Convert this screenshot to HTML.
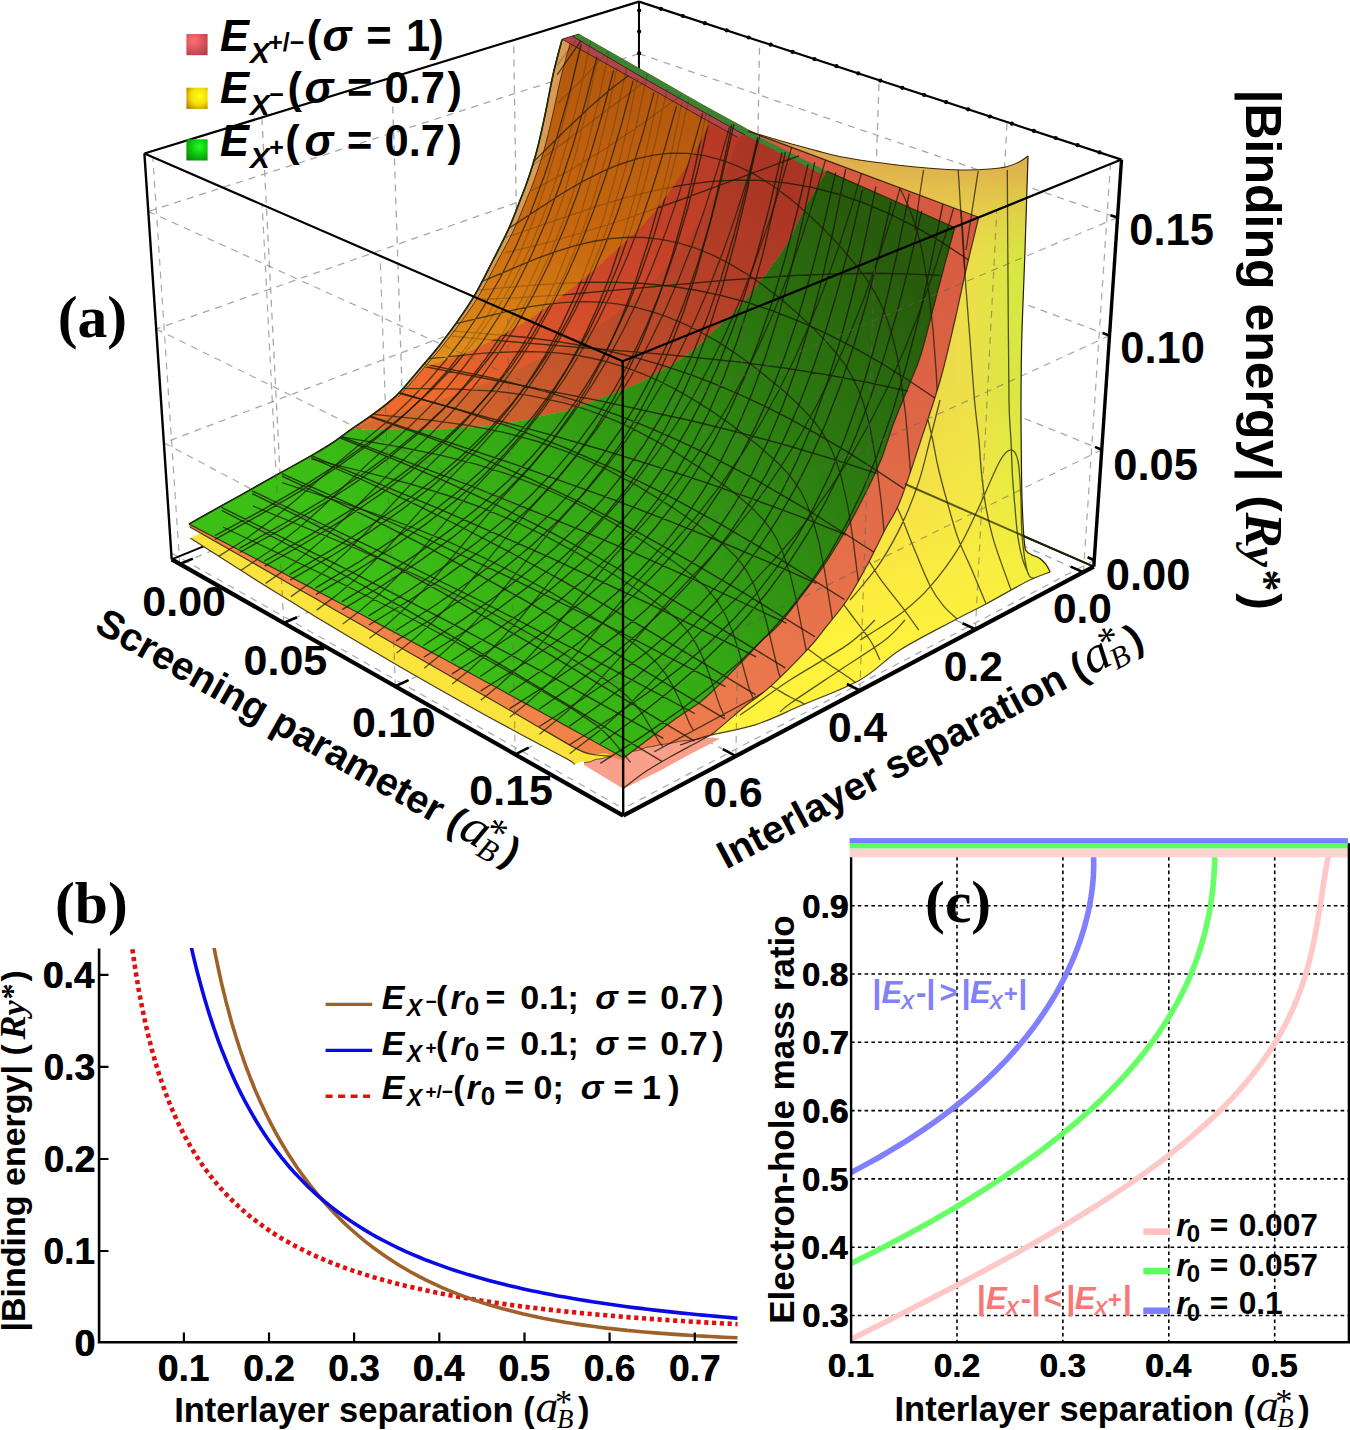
<!DOCTYPE html>
<html><head><meta charset="utf-8"><style>
html,body{margin:0;padding:0;background:#fff;}
svg{display:block;}
</style></head><body>
<svg width="1350" height="1430" viewBox="0 0 1350 1430">
<rect width="1350" height="1430" fill="#fff"/>
<defs>
<linearGradient id="gGreen" gradientUnits="userSpaceOnUse" x1="420" y1="640" x2="880" y2="250">
<stop offset="0" stop-color="#3cc016"/><stop offset="0.35" stop-color="#34a814"/><stop offset="0.7" stop-color="#2c7c10"/><stop offset="1" stop-color="#285c0c"/></linearGradient>
<linearGradient id="gYel" gradientUnits="userSpaceOnUse" x1="880" y1="200" x2="1030" y2="200">
<stop offset="0" stop-color="#f0d048"/><stop offset="0.6" stop-color="#ecdf4a"/><stop offset="1" stop-color="#d2ea40"/></linearGradient>
<linearGradient id="gYel2" gradientUnits="userSpaceOnUse" x1="900" y1="380" x2="900" y2="640">
<stop offset="0" stop-color="#fff040" stop-opacity="0"/><stop offset="1" stop-color="#fff23c" stop-opacity="1"/></linearGradient>
<linearGradient id="gLip" gradientUnits="userSpaceOnUse" x1="0" y1="150" x2="0" y2="270">
<stop offset="0" stop-color="#dca850" stop-opacity="1"/><stop offset="0.25" stop-color="#e0b44c" stop-opacity="0.85"/><stop offset="1" stop-color="#e8d048" stop-opacity="0"/></linearGradient>
<linearGradient id="gOr" gradientUnits="userSpaceOnUse" x1="560" y1="50" x2="420" y2="390">
<stop offset="0" stop-color="#b4580e"/><stop offset="0.45" stop-color="#c8680e"/><stop offset="0.8" stop-color="#dc8616"/><stop offset="1" stop-color="#e69a1c"/></linearGradient>
<linearGradient id="gRed1" gradientUnits="userSpaceOnUse" x1="700" y1="130" x2="430" y2="390">
<stop offset="0" stop-color="#b83a26"/><stop offset="0.45" stop-color="#cc462a"/><stop offset="1" stop-color="#ee6a2c"/></linearGradient>
<linearGradient id="gRed2" gradientUnits="userSpaceOnUse" x1="740" y1="140" x2="420" y2="410">
<stop offset="0" stop-color="#a83424"/><stop offset="0.5" stop-color="#b84a2a"/><stop offset="1" stop-color="#d06a30"/></linearGradient>
<linearGradient id="gRS" gradientUnits="userSpaceOnUse" x1="960" y1="220" x2="640" y2="770">
<stop offset="0" stop-color="#d65a40"/><stop offset="1" stop-color="#f08050"/></linearGradient>
</defs>
<path d="M519.6,417.4L513.6,40.1M404.5,464.4L391.8,77.5M282.1,514.4L261.9,117.4M638.7,262.8L163.9,442.8M638.8,159.7L156.2,329M638.9,53.7L148.3,211.4M753,418.6L759.6,41.1M866,467.7L879.1,80.2M986.4,520L1007,122.1M638.7,262.8L1101.8,449.7M638.8,159.7L1109.5,335.6M638.9,53.7L1117.5,217.6M646.8,372.4L179.7,564M753,418.6L283.7,623M866,467.7L395.3,686.3M986.4,520L515.2,754.4M628.1,373.1L1083.4,572.2M519.6,417.4L975.4,629.3M404.5,464.4L859.9,690.5M282.1,514.4L735.9,756.1" stroke="#a8a8a8" stroke-width="1.3" stroke-dasharray="7 6" fill="none"/>
<path d="M171.7,559.4L638.6,368.9M1093.8,566.7L638.6,368.9M639,1.6L638.6,368.9" stroke="#000" stroke-width="2" fill="none"/>
<path d="M748,131C755,133.1 775.8,139.5 790,143.5C804.2,147.5 819.7,152 833,155C846.3,158 856.7,159.6 870,161.5C883.3,163.4 901.3,165.4 913,166.7C924.7,167.9 931,168.4 940,169C949,169.6 958.4,170 966.7,170C975,170 983.3,169.6 990,169C996.7,168.4 1001.7,167.9 1006.7,166.7C1011.7,165.4 1016.5,163.3 1020,161.5C1023.5,159.7 1026.7,156.9 1028,156L1028,156C1027.5,171.7 1026,221 1025,250C1024,279 1022.7,305 1022,330C1021.3,355 1021.1,376.7 1021,400C1020.9,423.3 1021.3,452.6 1021.5,470C1021.7,487.4 1021.7,492.5 1022.2,504.5C1022.7,516.5 1023.4,533.8 1024.3,541.8C1025.2,549.8 1024.8,549.4 1027.4,552.2C1030,555 1036.8,556.3 1039.9,558.4C1043,560.5 1044.4,562.4 1046.1,564.6C1047.8,566.9 1049.5,570.7 1050.2,571.9L1050.2,571.9C1046.4,573.5 1038.1,575.9 1027.4,581.2C1016.7,586.6 998.1,597.5 986,604C973.9,610.5 969.1,612.3 954.8,620C940.5,627.7 915.8,640 900,650C884.2,660 876.7,670.6 860,679.9C843.3,689.2 817.3,698.5 800,706C782.7,713.5 771.3,719.6 756,724.6C740.7,729.6 720.7,732.4 708,735.8C695.3,739.2 684.7,743.5 680,745L680,745L623,788.5L623,788.5C626.7,785.8 637.2,777.2 645,772C652.8,766.8 660.8,762.2 670,757C679.2,751.8 692.5,744.9 700,740.7C707.5,736.5 707.4,737.6 714.8,731.9C722.2,726.2 735,714.4 744.4,706.7C753.8,699 760.5,695.5 771.1,685.9C781.7,676.3 798.8,658.8 808.1,648.9C817.4,639 820,634.6 826.7,626.2C833.4,617.8 841,609.4 848.1,598.5C855.2,587.6 863.2,572.5 869.5,560.7C875.8,549 880.8,537.9 885.9,528C891,518.1 894.1,516.2 900,501.5C905.9,486.8 914.3,460.2 921,440C927.7,419.8 934.6,400 940.3,380C946,360 950.7,338.3 955,320C959.3,301.7 964.2,278.3 966,270Z" fill="url(#gYel)"/>
<path d="M748,131C755,133.1 775.8,139.5 790,143.5C804.2,147.5 819.7,152 833,155C846.3,158 856.7,159.6 870,161.5C883.3,163.4 901.3,165.4 913,166.7C924.7,167.9 931,168.4 940,169C949,169.6 958.4,170 966.7,170C975,170 983.3,169.6 990,169C996.7,168.4 1001.7,167.9 1006.7,166.7C1011.7,165.4 1016.5,163.3 1020,161.5C1023.5,159.7 1026.7,156.9 1028,156L1028,156C1027.5,171.7 1026,221 1025,250C1024,279 1022.7,305 1022,330C1021.3,355 1021.1,376.7 1021,400C1020.9,423.3 1021.3,452.6 1021.5,470C1021.7,487.4 1021.7,492.5 1022.2,504.5C1022.7,516.5 1023.4,533.8 1024.3,541.8C1025.2,549.8 1024.8,549.4 1027.4,552.2C1030,555 1036.8,556.3 1039.9,558.4C1043,560.5 1044.4,562.4 1046.1,564.6C1047.8,566.9 1049.5,570.7 1050.2,571.9L1050.2,571.9C1046.4,573.5 1038.1,575.9 1027.4,581.2C1016.7,586.6 998.1,597.5 986,604C973.9,610.5 969.1,612.3 954.8,620C940.5,627.7 915.8,640 900,650C884.2,660 876.7,670.6 860,679.9C843.3,689.2 817.3,698.5 800,706C782.7,713.5 771.3,719.6 756,724.6C740.7,729.6 720.7,732.4 708,735.8C695.3,739.2 684.7,743.5 680,745L680,745L623,788.5L623,788.5C626.7,785.8 637.2,777.2 645,772C652.8,766.8 660.8,762.2 670,757C679.2,751.8 692.5,744.9 700,740.7C707.5,736.5 707.4,737.6 714.8,731.9C722.2,726.2 735,714.4 744.4,706.7C753.8,699 760.5,695.5 771.1,685.9C781.7,676.3 798.8,658.8 808.1,648.9C817.4,639 820,634.6 826.7,626.2C833.4,617.8 841,609.4 848.1,598.5C855.2,587.6 863.2,572.5 869.5,560.7C875.8,549 880.8,537.9 885.9,528C891,518.1 894.1,516.2 900,501.5C905.9,486.8 914.3,460.2 921,440C927.7,419.8 934.6,400 940.3,380C946,360 950.7,338.3 955,320C959.3,301.7 964.2,278.3 966,270Z" fill="url(#gYel2)"/>
<path d="M748,131C755,133.1 775.8,139.5 790,143.5C804.2,147.5 819.7,152 833,155C846.3,158 856.7,159.6 870,161.5C883.3,163.4 901.3,165.4 913,166.7C924.7,167.9 931,168.4 940,169C949,169.6 958.4,170 966.7,170C975,170 983.3,169.6 990,169C996.7,168.4 1001.7,167.9 1006.7,166.7C1011.7,165.4 1016.5,163.3 1020,161.5C1023.5,159.7 1026.7,156.9 1028,156L1028,156C1027.5,171.7 1026,221 1025,250C1024,279 1022.7,305 1022,330C1021.3,355 1021.1,376.7 1021,400C1020.9,423.3 1021.3,452.6 1021.5,470C1021.7,487.4 1021.7,492.5 1022.2,504.5C1022.7,516.5 1023.4,533.8 1024.3,541.8C1025.2,549.8 1024.8,549.4 1027.4,552.2C1030,555 1036.8,556.3 1039.9,558.4C1043,560.5 1044.4,562.4 1046.1,564.6C1047.8,566.9 1049.5,570.7 1050.2,571.9L1050.2,571.9C1046.4,573.5 1038.1,575.9 1027.4,581.2C1016.7,586.6 998.1,597.5 986,604C973.9,610.5 969.1,612.3 954.8,620C940.5,627.7 915.8,640 900,650C884.2,660 876.7,670.6 860,679.9C843.3,689.2 817.3,698.5 800,706C782.7,713.5 771.3,719.6 756,724.6C740.7,729.6 720.7,732.4 708,735.8C695.3,739.2 684.7,743.5 680,745L680,745L623,788.5L623,788.5C626.7,785.8 637.2,777.2 645,772C652.8,766.8 660.8,762.2 670,757C679.2,751.8 692.5,744.9 700,740.7C707.5,736.5 707.4,737.6 714.8,731.9C722.2,726.2 735,714.4 744.4,706.7C753.8,699 760.5,695.5 771.1,685.9C781.7,676.3 798.8,658.8 808.1,648.9C817.4,639 820,634.6 826.7,626.2C833.4,617.8 841,609.4 848.1,598.5C855.2,587.6 863.2,572.5 869.5,560.7C875.8,549 880.8,537.9 885.9,528C891,518.1 894.1,516.2 900,501.5C905.9,486.8 914.3,460.2 921,440C927.7,419.8 934.6,400 940.3,380C946,360 950.7,338.3 955,320C959.3,301.7 964.2,278.3 966,270Z" fill="url(#gLip)"/>
<path d="M562.1,39.2L572.2,36.1L572.2,36.1L579.2,34L579.2,34C589.2,39.7 618.9,56.6 639,68.1C659.1,79.6 681.3,92.5 700,103C718.7,113.5 742.5,126.3 751,131L751,131L826.7,171.1L826.7,171.1C823,177.4 810.7,197.4 804.4,208.9C798.1,220.4 794.3,230.6 788.9,240C783.5,249.4 777.8,257.8 772.2,265.6C766.7,273.4 761.2,279.7 755.6,286.7C750,293.7 745.4,300.9 738.9,307.8C732.4,314.7 724.1,321 716.7,327.8C709.3,334.6 701.8,342.8 694.4,348.9C687,355 679.6,359.8 672.2,364.4C664.8,369 655.7,373.5 650,376.7C644.3,379.9 642.8,381.3 637.8,383.6C632.8,385.9 627.4,387.8 620,390.7C612.6,393.6 602.2,397.6 593.3,400.9C584.4,404.2 575,408.3 566.7,410.7C558.4,413.1 551.6,413.7 543.7,415.4C535.8,417.1 528.8,419.3 519.3,421.1C509.8,422.9 500.3,424.6 486.7,426C473.1,427.4 454.1,428.5 437.8,429.2C421.5,429.9 400.2,429.9 388.9,430C377.6,430.1 376.1,429.8 370,429.5C363.9,429.2 355.5,428.6 352.6,428.4L352.6,428.4C356.1,426 366.1,419.5 373.3,414.1C380.5,408.8 389.4,402 395.6,396.3C401.8,390.6 405.7,385.4 410.4,380C415.1,374.6 419.4,369.4 424,364C428.6,358.6 432.3,354.5 437.7,347.7C443.1,340.9 450,331.8 456.2,323.1C462.4,314.4 468.5,305.9 474.6,295.4C480.8,284.9 487.5,271 493.1,260C498.8,249 503.9,239.4 508.5,229.2C513.1,218.9 517.5,207 520.8,198.5C524.1,190 525.8,186.1 528.5,178C531.2,169.9 534.2,160.5 537,150C539.8,139.5 542.3,127.5 545,115C547.7,102.5 550.2,87.6 553,75C555.8,62.4 560.5,45.5 562,39.6Z" fill="url(#gOr)"/>
<path d="M711,118C710.6,119.2 712.9,117 708.8,125C704.7,133.1 696,151.5 686.6,166.3C677.2,181.1 664,200.4 652.6,214C641.2,227.6 632.1,235.5 618.5,248C604.9,260.5 586.7,276.5 570.8,289C554.9,301.5 539.6,312.8 523.1,323C506.6,333.2 485.9,343.8 472,350.3C458.1,356.8 448.5,358.6 440,362C431.5,365.4 428.3,365 420.9,370.7C413.5,376.4 399.8,392 395.6,396.3L395.6,396.3C391.9,399.3 380.5,408.8 373.3,414.1C366.1,419.5 356.1,426 352.6,428.4L352.6,428.4C355.5,428.6 363.9,429.2 370,429.5C376.1,429.8 377.6,430.1 388.9,430C400.2,429.9 421.5,429.9 437.8,429.2C454.1,428.5 473.1,427.4 486.7,426C500.3,424.6 509.8,422.9 519.3,421.1C528.8,419.3 535.8,417.1 543.7,415.4C551.6,413.7 558.4,413.1 566.7,410.7C575,408.3 584.4,404.2 593.3,400.9C602.2,397.6 612.6,393.6 620,390.7C627.4,387.8 632.8,385.9 637.8,383.6C642.8,381.3 644.3,379.9 650,376.7C655.7,373.5 664.8,369 672.2,364.4C679.6,359.8 687,355 694.4,348.9C701.8,342.8 709.3,334.6 716.7,327.8C724.1,321 732.4,314.7 738.9,307.8C745.4,300.9 750,293.7 755.6,286.7C761.2,279.7 766.7,273.4 772.2,265.6C777.8,257.8 783.5,249.4 788.9,240C794.3,230.6 798.1,220.4 804.4,208.9C810.7,197.4 823,177.4 826.7,171.1L826.7,171.1C814.1,164.4 770.3,139.8 751,131C731.7,122.2 717.7,120.2 711,118Z" fill="url(#gRed1)"/>
<path d="M745,132C743.8,133.3 741.8,131.4 737.7,140C733.7,148.6 729.2,166.4 720.7,183.3C712.2,200.2 699.1,223.6 686.6,241.2C674.1,258.8 660.5,274.8 645.7,289C630.9,303.2 615,315.1 598,326.4C581,337.7 562.8,347.4 543.5,357C524.2,366.6 499.4,377.1 482.2,384.3C464.9,391.5 451.4,396 440,400C428.6,404 424,405.2 414,408.2C404,411.2 385.7,416.4 380,418L380,418L352.6,428.4L352.6,428.4C355.5,428.6 363.9,429.2 370,429.5C376.1,429.8 377.6,430.1 388.9,430C400.2,429.9 421.5,429.9 437.8,429.2C454.1,428.5 473.1,427.4 486.7,426C500.3,424.6 509.8,422.9 519.3,421.1C528.8,419.3 535.8,417.1 543.7,415.4C551.6,413.7 558.4,413.1 566.7,410.7C575,408.3 584.4,404.2 593.3,400.9C602.2,397.6 612.6,393.6 620,390.7C627.4,387.8 632.8,385.9 637.8,383.6C642.8,381.3 644.3,379.9 650,376.7C655.7,373.5 664.8,369 672.2,364.4C679.6,359.8 687,355 694.4,348.9C701.8,342.8 709.3,334.6 716.7,327.8C724.1,321 732.4,314.7 738.9,307.8C745.4,300.9 750,293.7 755.6,286.7C761.2,279.7 766.7,273.4 772.2,265.6C777.8,257.8 783.5,249.4 788.9,240C794.3,230.6 798.1,220.4 804.4,208.9C810.7,197.4 823,177.4 826.7,171.1L826.7,171.1C815.6,165.2 773.6,142.5 760,136C746.4,129.5 747.5,132.7 745,132Z" fill="url(#gRed2)" fill-opacity="0.85"/>
<path d="M562,39.6C560.5,45.5 555.8,62.4 553,75C550.2,87.6 547.7,102.5 545,115C542.3,127.5 539.8,139.5 537,150C534.2,160.5 531.2,169.9 528.5,178C525.8,186.1 524.1,190 520.8,198.5C517.5,207 513.1,218.9 508.5,229.2C503.9,239.4 498.8,249 493.1,260C487.5,271 480.8,284.9 474.6,295.4C468.5,305.9 462.4,314.4 456.2,323.1C450,331.8 443.1,340.9 437.7,347.7C432.3,354.5 428.6,358.6 424,364C419.4,369.4 415.1,374.6 410.4,380C405.7,385.4 398.1,393.6 395.6,396.3L398.1,397.1C400.6,394.4 408.2,386.2 412.9,380.8C417.6,375.4 421.9,370.2 426.5,364.8C431.1,359.4 435,355.3 440.5,348.5C446,341.7 453.2,332.6 459.5,323.9C465.9,315.2 472.1,306.7 478.5,296.2C484.9,285.7 491.8,271.8 497.7,260.8C503.6,249.8 508.9,240.2 513.7,230C518.5,219.8 523.1,207.8 526.6,199.3C530.1,190.8 531.9,186.9 534.7,178.8C537.6,170.7 540.8,161.3 543.8,150.8C546.8,140.3 549.6,128.3 552.5,115.8C555.4,103.3 558.2,88.4 561.3,75.8C564.4,63.2 569.4,46.3 571,40.4Z" fill="#d99a56"/>
<path d="M571,40.4C569.4,46.3 564.4,63.2 561.3,75.8C558.2,88.4 555.4,103.3 552.5,115.8C549.6,128.3 546.8,140.3 543.8,150.8C540.8,161.3 537.6,170.7 534.7,178.8C531.9,186.9 530.1,190.8 526.6,199.3C523.1,207.8 518.5,219.8 513.7,230C508.9,240.2 503.6,249.8 497.7,260.8C491.8,271.8 484.9,285.7 478.5,296.2C472.1,306.7 465.9,315.2 459.5,323.9C453.2,332.6 446,341.7 440.5,348.5C435,355.3 431.1,359.4 426.5,364.8C421.9,370.2 417.6,375.4 412.9,380.8C408.2,386.2 400.6,394.4 398.1,397.1" stroke="#3a2008" stroke-width="1" stroke-opacity="0.8" fill="none"/>
<path d="M562,39.6C560.5,45.5 555.8,62.4 553,75C550.2,87.6 547.7,102.5 545,115C542.3,127.5 539.8,139.5 537,150C534.2,160.5 531.2,169.9 528.5,178C525.8,186.1 524.1,190 520.8,198.5C517.5,207 513.1,218.9 508.5,229.2C503.9,239.4 498.8,249 493.1,260C487.5,271 480.8,284.9 474.6,295.4C468.5,305.9 462.4,314.4 456.2,323.1C450,331.8 443.1,340.9 437.7,347.7C432.3,354.5 428.6,358.6 424,364C419.4,369.4 415.1,374.6 410.4,380C405.7,385.4 401.8,390.6 395.6,396.3C389.4,402 380.5,408.8 373.3,414.1C366.1,419.5 359.3,423.7 352.6,428.4C345.9,433.1 339.4,438.2 333,442.5C326.6,446.8 323.4,448.7 314.1,454.1C304.8,459.5 289.4,467.9 277,474.8C264.6,481.7 250.5,489.7 240,495.6C229.5,501.5 222.5,505.2 214,510C205.5,514.8 193.2,521.8 189,524.1" stroke="#3a2208" stroke-width="1.3" fill="none"/>
<path d="M572.2,36.1 L639,75.5 L700,110 L745,135 L738,137.5 L700,116.5 L639,82 L562.1,39.2 Z" fill="#b0444a"/>
<path d="M579.2,34 L639,68.1 L700,103 L751,131 L826.7,171.1 L820,173.5 L745,135 L700,110 L639,75.5 L572.2,36.1 Z" fill="#3c8232"/>
<path d="M562.1,39.2 L572.2,36.1 L579.2,34 M572.2,36.1 L639,75.5 L700,110 L745,135 M562.1,39.2 L639,82 L700,116.5 L738,137.5" stroke="#301810" stroke-width="1" fill="none" stroke-opacity="0.8"/>
<path d="M748,131L978.7,217.3L978.7,217.3C976.6,226.1 970,252.9 966,270C962,287.1 959.3,301.7 955,320C950.7,338.3 946,360 940.3,380C934.6,400 927.7,419.8 921,440C914.3,460.2 905.9,486.8 900,501.5C894.1,516.2 891,518.1 885.9,528C880.8,537.9 875.8,549 869.5,560.7C863.2,572.5 855.2,587.6 848.1,598.5C841,609.4 833.4,617.8 826.7,626.2C820,634.6 817.4,639 808.1,648.9C798.8,658.8 781.7,676.3 771.1,685.9C760.5,695.5 753.8,699 744.4,706.7C735,714.4 722.2,726.2 714.8,731.9C707.4,737.6 707.5,736.5 700,740.7C692.5,744.9 679.2,751.8 670,757C660.8,762.2 652.8,766.8 645,772C637.2,777.2 626.7,785.8 623,788.5L623,758.3C627.5,754.9 641.1,744.7 650,738C658.9,731.3 668,724.2 676.3,718.2C684.6,712.2 693.6,707.1 700,702.2C706.4,697.3 707.6,695.8 714.8,688.9C722,682 735.1,668.9 743,660.7C750.9,652.6 756.4,645.8 762.2,640C768,634.2 771.1,633.5 777.6,626.2C784.1,618.9 793.9,605.9 801.5,596C809.1,586.1 815.6,577.9 823,567C830.4,556.1 838.9,542 845.6,530.5C852.3,519 857.3,509.6 863.2,497.8C869.1,486.1 875.9,472.1 880.9,460C885.9,447.9 888.3,437.5 893,425C897.7,412.5 904.5,396.9 909.2,385C913.9,373.1 916.5,369.1 921.3,353.3C926.1,337.5 932.4,311 938,290C943.6,269 951.9,237.9 954.7,227.5L954.7,227.5L826.7,171.1Z" fill="url(#gRS)"/>
<path d="M201,532.6C199.3,533.5 192.3,537.4 190.6,538.3C188.9,539.2 183.6,533.7 190.6,538.2C197.6,542.7 218.6,556.2 232.5,565.1C246.5,574 260.5,582.8 274.5,591.4C288.4,600.1 302.4,608.7 316.4,617.2C330.4,625.7 344.4,634.1 358.3,642.3C372.3,650.6 386.3,658.8 400.3,666.9C414.2,675 428.2,683 442.2,690.9C456.2,698.8 470.2,706.7 484.1,714.4C498.1,722.1 512.1,729.7 526.1,737.2C540,744.7 559.9,754.9 568,759.5C576.1,764 573.3,763.7 574.4,764.6C575.5,765.5 572.8,765.1 574.4,764.6C576,764.1 579.4,760.7 583.7,761.9C588,763.1 593.5,767.7 600,772C606.5,776.3 618.8,785.2 622.6,787.8L622.6,787.8L623,758.1L583.5,735.6C577,732 557.2,721 544.1,713.7C530.9,706.5 517.8,699.2 504.6,692C491.5,684.8 478.3,677.6 465.2,670.5C452,663.3 438.9,656.2 425.7,649.1C412.6,642 399.4,634.9 386.3,627.9C373.1,620.8 360,613.8 346.8,606.8C333.7,599.8 320.5,592.8 307.4,585.9C294.2,578.9 281.1,572 267.9,565.1C254.8,558.2 241.6,551.4 228.5,544.5C215.3,537.7 195.6,527.5 189,524.1Z" fill="#fae33c"/>
<path d="M189,524.1C189.1,524.4 189.7,525.5 189.8,526C189.9,526.5 182.7,522.7 189.8,526.9C196.9,531.1 218.3,543.1 232.5,551.3C246.8,559.4 261,567.5 275.3,575.7C289.5,583.8 303.8,592 318,600.1C332.2,608.3 346.5,616.5 360.7,624.6C375,632.8 389.2,641 403.5,649.2C417.7,657.3 432,665.5 446.2,673.7C460.4,681.9 474.7,690.1 488.9,698.3C503.2,706.5 517.4,714.7 531.7,722.9C545.9,731.1 564.7,742.4 574.4,747.6C584.1,752.8 583.8,752.5 590,754C596.2,755.5 606.1,750.7 611.5,756.3C616.9,761.9 620.8,782.5 622.6,787.8L623,758.1L583.5,735.6C577,732 557.2,721 544.1,713.7C530.9,706.5 517.8,699.2 504.6,692C491.5,684.8 478.3,677.6 465.2,670.5C452,663.3 438.9,656.2 425.7,649.1C412.6,642 399.4,634.9 386.3,627.9C373.1,620.8 360,613.8 346.8,606.8C333.7,599.8 320.5,592.8 307.4,585.9C294.2,578.9 281.1,572 267.9,565.1C254.8,558.2 241.6,551.4 228.5,544.5C215.3,537.7 195.6,527.5 189,524.1Z" fill="#f08448"/>
<path d="M584,765 L584,762.7 L590,761.8 L596,759.3 L601,758.8 L606.7,757.3 L612,756.7 L623.3,761 L633.3,751.3 L640,750 L646,747.3 L653,746.5 L660,744.7 L670,743.5 L680,741.3 L690,740.2 L700,738.7 L712,737.5 L720,738.7 L686.7,756 L660,770.7 L623.3,788.7 Z" fill="#f8a08c"/>
<path d="M584,762.7 L590,761.8 L596,759.3 L601,758.8 L606.7,757.3 L612,756.7 M633.3,751.3 L640,750 L646,747.3 L653,746.5 L660,744.7 L670,743.5 L680,741.3 L690,740.2 L700,738.7" stroke="#503018" stroke-width="1" fill="none" stroke-opacity="0.8"/>
<path d="M189,524.1C193.2,521.8 205.5,514.8 214,510C222.5,505.2 229.5,501.5 240,495.6C250.5,489.7 264.6,481.7 277,474.8C289.4,467.9 304.8,459.5 314.1,454.1C323.4,448.7 326.6,446.8 333,442.5C339.4,438.2 349.3,430.8 352.6,428.4L352.6,428.4C355.5,428.6 363.9,429.2 370,429.5C376.1,429.8 377.6,430.1 388.9,430C400.2,429.9 421.5,429.9 437.8,429.2C454.1,428.5 473.1,427.4 486.7,426C500.3,424.6 509.8,422.9 519.3,421.1C528.8,419.3 535.8,417.1 543.7,415.4C551.6,413.7 558.4,413.1 566.7,410.7C575,408.3 584.4,404.2 593.3,400.9C602.2,397.6 612.6,393.6 620,390.7C627.4,387.8 632.8,385.9 637.8,383.6C642.8,381.3 644.3,379.9 650,376.7C655.7,373.5 664.8,369 672.2,364.4C679.6,359.8 687,355 694.4,348.9C701.8,342.8 709.3,334.6 716.7,327.8C724.1,321 732.4,314.7 738.9,307.8C745.4,300.9 750,293.7 755.6,286.7C761.2,279.7 766.7,273.4 772.2,265.6C777.8,257.8 783.5,249.4 788.9,240C794.3,230.6 798.1,220.4 804.4,208.9C810.7,197.4 823,177.4 826.7,171.1L826.7,171.1L954.7,227.5L954.7,227.5C951.9,237.9 943.6,269 938,290C932.4,311 926.1,337.5 921.3,353.3C916.5,369.1 913.9,373.1 909.2,385C904.5,396.9 897.7,412.5 893,425C888.3,437.5 885.9,447.9 880.9,460C875.9,472.1 869.1,486.1 863.2,497.8C857.3,509.6 852.3,519 845.6,530.5C838.9,542 830.4,556.1 823,567C815.6,577.9 809.1,586.1 801.5,596C793.9,605.9 784.1,618.9 777.6,626.2C771.1,633.5 768,634.2 762.2,640C756.4,645.8 750.9,652.6 743,660.7C735.1,668.9 722,682 714.8,688.9C707.6,695.8 706.4,697.3 700,702.2C693.6,707.1 684.6,712.2 676.3,718.2C668,724.2 658.9,731.3 650,738C641.1,744.7 627.5,754.9 623,758.3L623,757.6C616.4,754 596.7,742.9 583.5,735.6C570.4,728.3 557.2,721 544.1,713.7C530.9,706.5 517.8,699.2 504.6,692C491.5,684.8 478.3,677.6 465.2,670.5C452,663.3 438.9,656.2 425.7,649.1C412.6,642 399.4,634.9 386.3,627.9C373.1,620.8 360,613.8 346.8,606.8C333.7,599.8 320.5,592.8 307.4,585.9C294.2,578.9 281.1,572 267.9,565.1C254.8,558.2 241.6,551.4 228.5,544.5C215.3,537.7 195.6,527.5 189,524.1Z" fill="url(#gGreen)"/>
<path d="M1093.8,566.7L905,484" stroke="#2a2a00" stroke-opacity="0.75" stroke-width="2" fill="none"/>
<defs><clipPath id="cpAll"><path d="M748,131C755,133.1 775.8,139.5 790,143.5C804.2,147.5 819.7,152 833,155C846.3,158 856.7,159.6 870,161.5C883.3,163.4 901.3,165.4 913,166.7C924.7,167.9 931,168.4 940,169C949,169.6 958.4,170 966.7,170C975,170 983.3,169.6 990,169C996.7,168.4 1001.7,167.9 1006.7,166.7C1011.7,165.4 1016.5,163.3 1020,161.5C1023.5,159.7 1026.7,156.9 1028,156L1028,156C1027.5,171.7 1026,221 1025,250C1024,279 1022.7,305 1022,330C1021.3,355 1021.1,376.7 1021,400C1020.9,423.3 1021.3,452.6 1021.5,470C1021.7,487.4 1021.7,492.5 1022.2,504.5C1022.7,516.5 1023.4,533.8 1024.3,541.8C1025.2,549.8 1024.8,549.4 1027.4,552.2C1030,555 1036.8,556.3 1039.9,558.4C1043,560.5 1044.4,562.4 1046.1,564.6C1047.8,566.9 1049.5,570.7 1050.2,571.9L1050.2,571.9C1046.4,573.5 1038.1,575.9 1027.4,581.2C1016.7,586.6 998.1,597.5 986,604C973.9,610.5 969.1,612.3 954.8,620C940.5,627.7 915.8,640 900,650C884.2,660 876.7,670.6 860,679.9C843.3,689.2 817.3,698.5 800,706C782.7,713.5 771.3,719.6 756,724.6C740.7,729.6 720.7,732.4 708,735.8C695.3,739.2 684.7,743.5 680,745L680,745L623,788.5L623,788.5C626.7,785.8 637.2,777.2 645,772C652.8,766.8 660.8,762.2 670,757C679.2,751.8 692.5,744.9 700,740.7C707.5,736.5 707.4,737.6 714.8,731.9C722.2,726.2 735,714.4 744.4,706.7C753.8,699 760.5,695.5 771.1,685.9C781.7,676.3 798.8,658.8 808.1,648.9C817.4,639 820,634.6 826.7,626.2C833.4,617.8 841,609.4 848.1,598.5C855.2,587.6 863.2,572.5 869.5,560.7C875.8,549 880.8,537.9 885.9,528C891,518.1 894.1,516.2 900,501.5C905.9,486.8 914.3,460.2 921,440C927.7,419.8 934.6,400 940.3,380C946,360 950.7,338.3 955,320C959.3,301.7 964.2,278.3 966,270Z"/><path d="M562.1,39.2L572.2,36.1L572.2,36.1L579.2,34L579.2,34C589.2,39.7 618.9,56.6 639,68.1C659.1,79.6 681.3,92.5 700,103C718.7,113.5 742.5,126.3 751,131L751,131L826.7,171.1L826.7,171.1C823,177.4 810.7,197.4 804.4,208.9C798.1,220.4 794.3,230.6 788.9,240C783.5,249.4 777.8,257.8 772.2,265.6C766.7,273.4 761.2,279.7 755.6,286.7C750,293.7 745.4,300.9 738.9,307.8C732.4,314.7 724.1,321 716.7,327.8C709.3,334.6 701.8,342.8 694.4,348.9C687,355 679.6,359.8 672.2,364.4C664.8,369 655.7,373.5 650,376.7C644.3,379.9 642.8,381.3 637.8,383.6C632.8,385.9 627.4,387.8 620,390.7C612.6,393.6 602.2,397.6 593.3,400.9C584.4,404.2 575,408.3 566.7,410.7C558.4,413.1 551.6,413.7 543.7,415.4C535.8,417.1 528.8,419.3 519.3,421.1C509.8,422.9 500.3,424.6 486.7,426C473.1,427.4 454.1,428.5 437.8,429.2C421.5,429.9 400.2,429.9 388.9,430C377.6,430.1 376.1,429.8 370,429.5C363.9,429.2 355.5,428.6 352.6,428.4L352.6,428.4C356.1,426 366.1,419.5 373.3,414.1C380.5,408.8 389.4,402 395.6,396.3C401.8,390.6 405.7,385.4 410.4,380C415.1,374.6 419.4,369.4 424,364C428.6,358.6 432.3,354.5 437.7,347.7C443.1,340.9 450,331.8 456.2,323.1C462.4,314.4 468.5,305.9 474.6,295.4C480.8,284.9 487.5,271 493.1,260C498.8,249 503.9,239.4 508.5,229.2C513.1,218.9 517.5,207 520.8,198.5C524.1,190 525.8,186.1 528.5,178C531.2,169.9 534.2,160.5 537,150C539.8,139.5 542.3,127.5 545,115C547.7,102.5 550.2,87.6 553,75C555.8,62.4 560.5,45.5 562,39.6Z"/><path d="M748,131L978.7,217.3L978.7,217.3C976.6,226.1 970,252.9 966,270C962,287.1 959.3,301.7 955,320C950.7,338.3 946,360 940.3,380C934.6,400 927.7,419.8 921,440C914.3,460.2 905.9,486.8 900,501.5C894.1,516.2 891,518.1 885.9,528C880.8,537.9 875.8,549 869.5,560.7C863.2,572.5 855.2,587.6 848.1,598.5C841,609.4 833.4,617.8 826.7,626.2C820,634.6 817.4,639 808.1,648.9C798.8,658.8 781.7,676.3 771.1,685.9C760.5,695.5 753.8,699 744.4,706.7C735,714.4 722.2,726.2 714.8,731.9C707.4,737.6 707.5,736.5 700,740.7C692.5,744.9 679.2,751.8 670,757C660.8,762.2 652.8,766.8 645,772C637.2,777.2 626.7,785.8 623,788.5L623,758.3C627.5,754.9 641.1,744.7 650,738C658.9,731.3 668,724.2 676.3,718.2C684.6,712.2 693.6,707.1 700,702.2C706.4,697.3 707.6,695.8 714.8,688.9C722,682 735.1,668.9 743,660.7C750.9,652.6 756.4,645.8 762.2,640C768,634.2 771.1,633.5 777.6,626.2C784.1,618.9 793.9,605.9 801.5,596C809.1,586.1 815.6,577.9 823,567C830.4,556.1 838.9,542 845.6,530.5C852.3,519 857.3,509.6 863.2,497.8C869.1,486.1 875.9,472.1 880.9,460C885.9,447.9 888.3,437.5 893,425C897.7,412.5 904.5,396.9 909.2,385C913.9,373.1 916.5,369.1 921.3,353.3C926.1,337.5 932.4,311 938,290C943.6,269 951.9,237.9 954.7,227.5L954.7,227.5L826.7,171.1Z"/><path d="M189,524.1C193.2,521.8 205.5,514.8 214,510C222.5,505.2 229.5,501.5 240,495.6C250.5,489.7 264.6,481.7 277,474.8C289.4,467.9 304.8,459.5 314.1,454.1C323.4,448.7 326.6,446.8 333,442.5C339.4,438.2 349.3,430.8 352.6,428.4L352.6,428.4C355.5,428.6 363.9,429.2 370,429.5C376.1,429.8 377.6,430.1 388.9,430C400.2,429.9 421.5,429.9 437.8,429.2C454.1,428.5 473.1,427.4 486.7,426C500.3,424.6 509.8,422.9 519.3,421.1C528.8,419.3 535.8,417.1 543.7,415.4C551.6,413.7 558.4,413.1 566.7,410.7C575,408.3 584.4,404.2 593.3,400.9C602.2,397.6 612.6,393.6 620,390.7C627.4,387.8 632.8,385.9 637.8,383.6C642.8,381.3 644.3,379.9 650,376.7C655.7,373.5 664.8,369 672.2,364.4C679.6,359.8 687,355 694.4,348.9C701.8,342.8 709.3,334.6 716.7,327.8C724.1,321 732.4,314.7 738.9,307.8C745.4,300.9 750,293.7 755.6,286.7C761.2,279.7 766.7,273.4 772.2,265.6C777.8,257.8 783.5,249.4 788.9,240C794.3,230.6 798.1,220.4 804.4,208.9C810.7,197.4 823,177.4 826.7,171.1L826.7,171.1L954.7,227.5L954.7,227.5C951.9,237.9 943.6,269 938,290C932.4,311 926.1,337.5 921.3,353.3C916.5,369.1 913.9,373.1 909.2,385C904.5,396.9 897.7,412.5 893,425C888.3,437.5 885.9,447.9 880.9,460C875.9,472.1 869.1,486.1 863.2,497.8C857.3,509.6 852.3,519 845.6,530.5C838.9,542 830.4,556.1 823,567C815.6,577.9 809.1,586.1 801.5,596C793.9,605.9 784.1,618.9 777.6,626.2C771.1,633.5 768,634.2 762.2,640C756.4,645.8 750.9,652.6 743,660.7C735.1,668.9 722,682 714.8,688.9C707.6,695.8 706.4,697.3 700,702.2C693.6,707.1 684.6,712.2 676.3,718.2C668,724.2 658.9,731.3 650,738C641.1,744.7 627.5,754.9 623,758.3L623,757.6C616.4,754 596.7,742.9 583.5,735.6C570.4,728.3 557.2,721 544.1,713.7C530.9,706.5 517.8,699.2 504.6,692C491.5,684.8 478.3,677.6 465.2,670.5C452,663.3 438.9,656.2 425.7,649.1C412.6,642 399.4,634.9 386.3,627.9C373.1,620.8 360,613.8 346.8,606.8C333.7,599.8 320.5,592.8 307.4,585.9C294.2,578.9 281.1,572 267.9,565.1C254.8,558.2 241.6,551.4 228.5,544.5C215.3,537.7 195.6,527.5 189,524.1Z"/><path d="M201,532.6C199.3,533.5 192.3,537.4 190.6,538.3C188.9,539.2 183.6,533.7 190.6,538.2C197.6,542.7 218.6,556.2 232.5,565.1C246.5,574 260.5,582.8 274.5,591.4C288.4,600.1 302.4,608.7 316.4,617.2C330.4,625.7 344.4,634.1 358.3,642.3C372.3,650.6 386.3,658.8 400.3,666.9C414.2,675 428.2,683 442.2,690.9C456.2,698.8 470.2,706.7 484.1,714.4C498.1,722.1 512.1,729.7 526.1,737.2C540,744.7 559.9,754.9 568,759.5C576.1,764 573.3,763.7 574.4,764.6C575.5,765.5 572.8,765.1 574.4,764.6C576,764.1 579.4,760.7 583.7,761.9C588,763.1 593.5,767.7 600,772C606.5,776.3 618.8,785.2 622.6,787.8L622.6,787.8L623,758.1L583.5,735.6C577,732 557.2,721 544.1,713.7C530.9,706.5 517.8,699.2 504.6,692C491.5,684.8 478.3,677.6 465.2,670.5C452,663.3 438.9,656.2 425.7,649.1C412.6,642 399.4,634.9 386.3,627.9C373.1,620.8 360,613.8 346.8,606.8C333.7,599.8 320.5,592.8 307.4,585.9C294.2,578.9 281.1,572 267.9,565.1C254.8,558.2 241.6,551.4 228.5,544.5C215.3,537.7 195.6,527.5 189,524.1Z"/></clipPath></defs>
<defs><clipPath id="cpNoY"><path d="M562.1,39.2L572.2,36.1L572.2,36.1L579.2,34L579.2,34C589.2,39.7 618.9,56.6 639,68.1C659.1,79.6 681.3,92.5 700,103C718.7,113.5 742.5,126.3 751,131L751,131L826.7,171.1L826.7,171.1C823,177.4 810.7,197.4 804.4,208.9C798.1,220.4 794.3,230.6 788.9,240C783.5,249.4 777.8,257.8 772.2,265.6C766.7,273.4 761.2,279.7 755.6,286.7C750,293.7 745.4,300.9 738.9,307.8C732.4,314.7 724.1,321 716.7,327.8C709.3,334.6 701.8,342.8 694.4,348.9C687,355 679.6,359.8 672.2,364.4C664.8,369 655.7,373.5 650,376.7C644.3,379.9 642.8,381.3 637.8,383.6C632.8,385.9 627.4,387.8 620,390.7C612.6,393.6 602.2,397.6 593.3,400.9C584.4,404.2 575,408.3 566.7,410.7C558.4,413.1 551.6,413.7 543.7,415.4C535.8,417.1 528.8,419.3 519.3,421.1C509.8,422.9 500.3,424.6 486.7,426C473.1,427.4 454.1,428.5 437.8,429.2C421.5,429.9 400.2,429.9 388.9,430C377.6,430.1 376.1,429.8 370,429.5C363.9,429.2 355.5,428.6 352.6,428.4L352.6,428.4C356.1,426 366.1,419.5 373.3,414.1C380.5,408.8 389.4,402 395.6,396.3C401.8,390.6 405.7,385.4 410.4,380C415.1,374.6 419.4,369.4 424,364C428.6,358.6 432.3,354.5 437.7,347.7C443.1,340.9 450,331.8 456.2,323.1C462.4,314.4 468.5,305.9 474.6,295.4C480.8,284.9 487.5,271 493.1,260C498.8,249 503.9,239.4 508.5,229.2C513.1,218.9 517.5,207 520.8,198.5C524.1,190 525.8,186.1 528.5,178C531.2,169.9 534.2,160.5 537,150C539.8,139.5 542.3,127.5 545,115C547.7,102.5 550.2,87.6 553,75C555.8,62.4 560.5,45.5 562,39.6Z"/><path d="M748,131L978.7,217.3L978.7,217.3C976.6,226.1 970,252.9 966,270C962,287.1 959.3,301.7 955,320C950.7,338.3 946,360 940.3,380C934.6,400 927.7,419.8 921,440C914.3,460.2 905.9,486.8 900,501.5C894.1,516.2 891,518.1 885.9,528C880.8,537.9 875.8,549 869.5,560.7C863.2,572.5 855.2,587.6 848.1,598.5C841,609.4 833.4,617.8 826.7,626.2C820,634.6 817.4,639 808.1,648.9C798.8,658.8 781.7,676.3 771.1,685.9C760.5,695.5 753.8,699 744.4,706.7C735,714.4 722.2,726.2 714.8,731.9C707.4,737.6 707.5,736.5 700,740.7C692.5,744.9 679.2,751.8 670,757C660.8,762.2 652.8,766.8 645,772C637.2,777.2 626.7,785.8 623,788.5L623,758.3C627.5,754.9 641.1,744.7 650,738C658.9,731.3 668,724.2 676.3,718.2C684.6,712.2 693.6,707.1 700,702.2C706.4,697.3 707.6,695.8 714.8,688.9C722,682 735.1,668.9 743,660.7C750.9,652.6 756.4,645.8 762.2,640C768,634.2 771.1,633.5 777.6,626.2C784.1,618.9 793.9,605.9 801.5,596C809.1,586.1 815.6,577.9 823,567C830.4,556.1 838.9,542 845.6,530.5C852.3,519 857.3,509.6 863.2,497.8C869.1,486.1 875.9,472.1 880.9,460C885.9,447.9 888.3,437.5 893,425C897.7,412.5 904.5,396.9 909.2,385C913.9,373.1 916.5,369.1 921.3,353.3C926.1,337.5 932.4,311 938,290C943.6,269 951.9,237.9 954.7,227.5L954.7,227.5L826.7,171.1Z"/><path d="M189,524.1C193.2,521.8 205.5,514.8 214,510C222.5,505.2 229.5,501.5 240,495.6C250.5,489.7 264.6,481.7 277,474.8C289.4,467.9 304.8,459.5 314.1,454.1C323.4,448.7 326.6,446.8 333,442.5C339.4,438.2 349.3,430.8 352.6,428.4L352.6,428.4C355.5,428.6 363.9,429.2 370,429.5C376.1,429.8 377.6,430.1 388.9,430C400.2,429.9 421.5,429.9 437.8,429.2C454.1,428.5 473.1,427.4 486.7,426C500.3,424.6 509.8,422.9 519.3,421.1C528.8,419.3 535.8,417.1 543.7,415.4C551.6,413.7 558.4,413.1 566.7,410.7C575,408.3 584.4,404.2 593.3,400.9C602.2,397.6 612.6,393.6 620,390.7C627.4,387.8 632.8,385.9 637.8,383.6C642.8,381.3 644.3,379.9 650,376.7C655.7,373.5 664.8,369 672.2,364.4C679.6,359.8 687,355 694.4,348.9C701.8,342.8 709.3,334.6 716.7,327.8C724.1,321 732.4,314.7 738.9,307.8C745.4,300.9 750,293.7 755.6,286.7C761.2,279.7 766.7,273.4 772.2,265.6C777.8,257.8 783.5,249.4 788.9,240C794.3,230.6 798.1,220.4 804.4,208.9C810.7,197.4 823,177.4 826.7,171.1L826.7,171.1L954.7,227.5L954.7,227.5C951.9,237.9 943.6,269 938,290C932.4,311 926.1,337.5 921.3,353.3C916.5,369.1 913.9,373.1 909.2,385C904.5,396.9 897.7,412.5 893,425C888.3,437.5 885.9,447.9 880.9,460C875.9,472.1 869.1,486.1 863.2,497.8C857.3,509.6 852.3,519 845.6,530.5C838.9,542 830.4,556.1 823,567C815.6,577.9 809.1,586.1 801.5,596C793.9,605.9 784.1,618.9 777.6,626.2C771.1,633.5 768,634.2 762.2,640C756.4,645.8 750.9,652.6 743,660.7C735.1,668.9 722,682 714.8,688.9C707.6,695.8 706.4,697.3 700,702.2C693.6,707.1 684.6,712.2 676.3,718.2C668,724.2 658.9,731.3 650,738C641.1,744.7 627.5,754.9 623,758.3L623,757.6C616.4,754 596.7,742.9 583.5,735.6C570.4,728.3 557.2,721 544.1,713.7C530.9,706.5 517.8,699.2 504.6,692C491.5,684.8 478.3,677.6 465.2,670.5C452,663.3 438.9,656.2 425.7,649.1C412.6,642 399.4,634.9 386.3,627.9C373.1,620.8 360,613.8 346.8,606.8C333.7,599.8 320.5,592.8 307.4,585.9C294.2,578.9 281.1,572 267.9,565.1C254.8,558.2 241.6,551.4 228.5,544.5C215.3,537.7 195.6,527.5 189,524.1Z"/><path d="M201,532.6C199.3,533.5 192.3,537.4 190.6,538.3C188.9,539.2 183.6,533.7 190.6,538.2C197.6,542.7 218.6,556.2 232.5,565.1C246.5,574 260.5,582.8 274.5,591.4C288.4,600.1 302.4,608.7 316.4,617.2C330.4,625.7 344.4,634.1 358.3,642.3C372.3,650.6 386.3,658.8 400.3,666.9C414.2,675 428.2,683 442.2,690.9C456.2,698.8 470.2,706.7 484.1,714.4C498.1,722.1 512.1,729.7 526.1,737.2C540,744.7 559.9,754.9 568,759.5C576.1,764 573.3,763.7 574.4,764.6C575.5,765.5 572.8,765.1 574.4,764.6C576,764.1 579.4,760.7 583.7,761.9C588,763.1 593.5,767.7 600,772C606.5,776.3 618.8,785.2 622.6,787.8L622.6,787.8L623,758.1L583.5,735.6C577,732 557.2,721 544.1,713.7C530.9,706.5 517.8,699.2 504.6,692C491.5,684.8 478.3,677.6 465.2,670.5C452,663.3 438.9,656.2 425.7,649.1C412.6,642 399.4,634.9 386.3,627.9C373.1,620.8 360,613.8 346.8,606.8C333.7,599.8 320.5,592.8 307.4,585.9C294.2,578.9 281.1,572 267.9,565.1C254.8,558.2 241.6,551.4 228.5,544.5C215.3,537.7 195.6,527.5 189,524.1Z"/></clipPath><clipPath id="cpPG"><path d="M711,118C710.6,119.2 712.9,117 708.8,125C704.7,133.1 696,151.5 686.6,166.3C677.2,181.1 664,200.4 652.6,214C641.2,227.6 632.1,235.5 618.5,248C604.9,260.5 586.7,276.5 570.8,289C554.9,301.5 539.6,312.8 523.1,323C506.6,333.2 485.9,343.8 472,350.3C458.1,356.8 448.5,358.6 440,362C431.5,365.4 428.3,365 420.9,370.7C413.5,376.4 399.8,392 395.6,396.3L395.6,396.3C391.9,399.3 380.5,408.8 373.3,414.1C366.1,419.5 356.1,426 352.6,428.4L352.6,428.4C355.5,428.6 363.9,429.2 370,429.5C376.1,429.8 377.6,430.1 388.9,430C400.2,429.9 421.5,429.9 437.8,429.2C454.1,428.5 473.1,427.4 486.7,426C500.3,424.6 509.8,422.9 519.3,421.1C528.8,419.3 535.8,417.1 543.7,415.4C551.6,413.7 558.4,413.1 566.7,410.7C575,408.3 584.4,404.2 593.3,400.9C602.2,397.6 612.6,393.6 620,390.7C627.4,387.8 632.8,385.9 637.8,383.6C642.8,381.3 644.3,379.9 650,376.7C655.7,373.5 664.8,369 672.2,364.4C679.6,359.8 687,355 694.4,348.9C701.8,342.8 709.3,334.6 716.7,327.8C724.1,321 732.4,314.7 738.9,307.8C745.4,300.9 750,293.7 755.6,286.7C761.2,279.7 766.7,273.4 772.2,265.6C777.8,257.8 783.5,249.4 788.9,240C794.3,230.6 798.1,220.4 804.4,208.9C810.7,197.4 823,177.4 826.7,171.1L826.7,171.1C814.1,164.4 770.3,139.8 751,131C731.7,122.2 717.7,120.2 711,118Z"/><path d="M748,131L978.7,217.3L978.7,217.3C976.6,226.1 970,252.9 966,270C962,287.1 959.3,301.7 955,320C950.7,338.3 946,360 940.3,380C934.6,400 927.7,419.8 921,440C914.3,460.2 905.9,486.8 900,501.5C894.1,516.2 891,518.1 885.9,528C880.8,537.9 875.8,549 869.5,560.7C863.2,572.5 855.2,587.6 848.1,598.5C841,609.4 833.4,617.8 826.7,626.2C820,634.6 817.4,639 808.1,648.9C798.8,658.8 781.7,676.3 771.1,685.9C760.5,695.5 753.8,699 744.4,706.7C735,714.4 722.2,726.2 714.8,731.9C707.4,737.6 707.5,736.5 700,740.7C692.5,744.9 679.2,751.8 670,757C660.8,762.2 652.8,766.8 645,772C637.2,777.2 626.7,785.8 623,788.5L623,758.3C627.5,754.9 641.1,744.7 650,738C658.9,731.3 668,724.2 676.3,718.2C684.6,712.2 693.6,707.1 700,702.2C706.4,697.3 707.6,695.8 714.8,688.9C722,682 735.1,668.9 743,660.7C750.9,652.6 756.4,645.8 762.2,640C768,634.2 771.1,633.5 777.6,626.2C784.1,618.9 793.9,605.9 801.5,596C809.1,586.1 815.6,577.9 823,567C830.4,556.1 838.9,542 845.6,530.5C852.3,519 857.3,509.6 863.2,497.8C869.1,486.1 875.9,472.1 880.9,460C885.9,447.9 888.3,437.5 893,425C897.7,412.5 904.5,396.9 909.2,385C913.9,373.1 916.5,369.1 921.3,353.3C926.1,337.5 932.4,311 938,290C943.6,269 951.9,237.9 954.7,227.5L954.7,227.5L826.7,171.1Z"/><path d="M189,524.1C193.2,521.8 205.5,514.8 214,510C222.5,505.2 229.5,501.5 240,495.6C250.5,489.7 264.6,481.7 277,474.8C289.4,467.9 304.8,459.5 314.1,454.1C323.4,448.7 326.6,446.8 333,442.5C339.4,438.2 349.3,430.8 352.6,428.4L352.6,428.4C355.5,428.6 363.9,429.2 370,429.5C376.1,429.8 377.6,430.1 388.9,430C400.2,429.9 421.5,429.9 437.8,429.2C454.1,428.5 473.1,427.4 486.7,426C500.3,424.6 509.8,422.9 519.3,421.1C528.8,419.3 535.8,417.1 543.7,415.4C551.6,413.7 558.4,413.1 566.7,410.7C575,408.3 584.4,404.2 593.3,400.9C602.2,397.6 612.6,393.6 620,390.7C627.4,387.8 632.8,385.9 637.8,383.6C642.8,381.3 644.3,379.9 650,376.7C655.7,373.5 664.8,369 672.2,364.4C679.6,359.8 687,355 694.4,348.9C701.8,342.8 709.3,334.6 716.7,327.8C724.1,321 732.4,314.7 738.9,307.8C745.4,300.9 750,293.7 755.6,286.7C761.2,279.7 766.7,273.4 772.2,265.6C777.8,257.8 783.5,249.4 788.9,240C794.3,230.6 798.1,220.4 804.4,208.9C810.7,197.4 823,177.4 826.7,171.1L826.7,171.1L954.7,227.5L954.7,227.5C951.9,237.9 943.6,269 938,290C932.4,311 926.1,337.5 921.3,353.3C916.5,369.1 913.9,373.1 909.2,385C904.5,396.9 897.7,412.5 893,425C888.3,437.5 885.9,447.9 880.9,460C875.9,472.1 869.1,486.1 863.2,497.8C857.3,509.6 852.3,519 845.6,530.5C838.9,542 830.4,556.1 823,567C815.6,577.9 809.1,586.1 801.5,596C793.9,605.9 784.1,618.9 777.6,626.2C771.1,633.5 768,634.2 762.2,640C756.4,645.8 750.9,652.6 743,660.7C735.1,668.9 722,682 714.8,688.9C707.6,695.8 706.4,697.3 700,702.2C693.6,707.1 684.6,712.2 676.3,718.2C668,724.2 658.9,731.3 650,738C641.1,744.7 627.5,754.9 623,758.3L623,757.6C616.4,754 596.7,742.9 583.5,735.6C570.4,728.3 557.2,721 544.1,713.7C530.9,706.5 517.8,699.2 504.6,692C491.5,684.8 478.3,677.6 465.2,670.5C452,663.3 438.9,656.2 425.7,649.1C412.6,642 399.4,634.9 386.3,627.9C373.1,620.8 360,613.8 346.8,606.8C333.7,599.8 320.5,592.8 307.4,585.9C294.2,578.9 281.1,572 267.9,565.1C254.8,558.2 241.6,551.4 228.5,544.5C215.3,537.7 195.6,527.5 189,524.1Z"/><path d="M201,532.6C199.3,533.5 192.3,537.4 190.6,538.3C188.9,539.2 183.6,533.7 190.6,538.2C197.6,542.7 218.6,556.2 232.5,565.1C246.5,574 260.5,582.8 274.5,591.4C288.4,600.1 302.4,608.7 316.4,617.2C330.4,625.7 344.4,634.1 358.3,642.3C372.3,650.6 386.3,658.8 400.3,666.9C414.2,675 428.2,683 442.2,690.9C456.2,698.8 470.2,706.7 484.1,714.4C498.1,722.1 512.1,729.7 526.1,737.2C540,744.7 559.9,754.9 568,759.5C576.1,764 573.3,763.7 574.4,764.6C575.5,765.5 572.8,765.1 574.4,764.6C576,764.1 579.4,760.7 583.7,761.9C588,763.1 593.5,767.7 600,772C606.5,776.3 618.8,785.2 622.6,787.8L622.6,787.8L623,758.1L583.5,735.6C577,732 557.2,721 544.1,713.7C530.9,706.5 517.8,699.2 504.6,692C491.5,684.8 478.3,677.6 465.2,670.5C452,663.3 438.9,656.2 425.7,649.1C412.6,642 399.4,634.9 386.3,627.9C373.1,620.8 360,613.8 346.8,606.8C333.7,599.8 320.5,592.8 307.4,585.9C294.2,578.9 281.1,572 267.9,565.1C254.8,558.2 241.6,551.4 228.5,544.5C215.3,537.7 195.6,527.5 189,524.1Z"/></clipPath><clipPath id="cpY"><path d="M748,131C755,133.1 775.8,139.5 790,143.5C804.2,147.5 819.7,152 833,155C846.3,158 856.7,159.6 870,161.5C883.3,163.4 901.3,165.4 913,166.7C924.7,167.9 931,168.4 940,169C949,169.6 958.4,170 966.7,170C975,170 983.3,169.6 990,169C996.7,168.4 1001.7,167.9 1006.7,166.7C1011.7,165.4 1016.5,163.3 1020,161.5C1023.5,159.7 1026.7,156.9 1028,156L1028,156C1027.5,171.7 1026,221 1025,250C1024,279 1022.7,305 1022,330C1021.3,355 1021.1,376.7 1021,400C1020.9,423.3 1021.3,452.6 1021.5,470C1021.7,487.4 1021.7,492.5 1022.2,504.5C1022.7,516.5 1023.4,533.8 1024.3,541.8C1025.2,549.8 1024.8,549.4 1027.4,552.2C1030,555 1036.8,556.3 1039.9,558.4C1043,560.5 1044.4,562.4 1046.1,564.6C1047.8,566.9 1049.5,570.7 1050.2,571.9L1050.2,571.9C1046.4,573.5 1038.1,575.9 1027.4,581.2C1016.7,586.6 998.1,597.5 986,604C973.9,610.5 969.1,612.3 954.8,620C940.5,627.7 915.8,640 900,650C884.2,660 876.7,670.6 860,679.9C843.3,689.2 817.3,698.5 800,706C782.7,713.5 771.3,719.6 756,724.6C740.7,729.6 720.7,732.4 708,735.8C695.3,739.2 684.7,743.5 680,745L680,745L623,788.5L623,788.5C626.7,785.8 637.2,777.2 645,772C652.8,766.8 660.8,762.2 670,757C679.2,751.8 692.5,744.9 700,740.7C707.5,736.5 707.4,737.6 714.8,731.9C722.2,726.2 735,714.4 744.4,706.7C753.8,699 760.5,695.5 771.1,685.9C781.7,676.3 798.8,658.8 808.1,648.9C817.4,639 820,634.6 826.7,626.2C833.4,617.8 841,609.4 848.1,598.5C855.2,587.6 863.2,572.5 869.5,560.7C875.8,549 880.8,537.9 885.9,528C891,518.1 894.1,516.2 900,501.5C905.9,486.8 914.3,460.2 921,440C927.7,419.8 934.6,400 940.3,380C946,360 950.7,338.3 955,320C959.3,301.7 964.2,278.3 966,270Z"/></clipPath></defs>
<path d="M581.3,44.5 569.8,91.7 557.1,136.5 544.5,175.3 530.8,212.0 515.9,246.4 499.9,278.5 482.7,308.3 464.3,336.0 446.8,359.0 429.2,379.8 409.1,400.8 387.8,421.0 343.2,458.2 296.7,499.2 274.3,517.8 245.5,539.2 216.3,557.9M596.8,57.1 585.0,103.6 573.3,144.3 560.5,183.3 546.6,220.3 531.6,255.0 516.5,285.5 500.2,314.3 481.6,343.0 465.1,365.5 447.4,387.2 429.5,406.9 409.1,427.1 369.0,462.7 321.3,507.9 297.6,529.0 270.0,550.8 240.7,570.5M613.6,70.5 601.7,116.2 589.8,156.4 576.9,195.1 563.9,229.2 548.7,264.2 533.4,295.1 517.0,324.3 499.4,351.9 483.9,373.6 468.2,393.4 450.2,414.0 432.0,432.9 394.1,468.5 345.1,518.0 322.6,539.4 295.0,562.7 265.6,583.4M633.1,80.6 621.0,126.1 608.9,166.2 595.8,204.8 582.7,239.1 568.4,272.0 553.0,303.3 536.5,333.2 519.8,359.7 496.3,392.4 471.4,422.4 450.8,444.3 416.2,478.5 365.8,532.5 346.8,551.4 328.8,567.7 310.6,582.5 290.9,596.6M654.0,92.4 642.9,133.6 630.6,173.9 617.4,212.9 604.1,247.4 589.7,280.7 575.3,310.4 558.6,340.9 541.8,368.1 519.3,400.2 495.4,429.9 477.0,450.2 442.2,486.1 389.3,545.5 371.4,564.0 353.4,581.0 335.1,596.4 316.6,610.1M676.5,106.0 665.2,146.8 652.8,186.7 640.5,222.4 627.1,257.1 612.5,290.7 598.0,320.6 582.3,349.5 565.4,377.3 543.8,408.6 521.0,437.7 502.5,458.7 469.9,493.4 413.3,559.4 395.4,578.5 378.4,594.9 361.3,609.8 342.8,624.0M702.7,113.3 691.3,154.3 678.8,194.6 666.3,230.6 652.7,265.7 638.1,299.6 623.4,330.0 607.6,359.3 591.7,385.7 571.2,416.1 548.2,446.1 529.7,467.7 497.0,503.4 439.0,573.0 420.9,592.6 403.9,609.5 386.8,624.7 369.5,638.3M729.4,127.2 717.8,167.9 705.1,207.9 692.6,243.7 678.9,278.7 665.2,310.1 650.4,340.7 634.5,370.3 618.5,396.9 597.9,427.7 576.0,456.6 557.4,478.7 524.5,515.1 465.1,587.6 448.2,606.3 431.1,623.5 413.9,639.1 396.6,653.1M760.0,135.2 748.2,176.2 735.4,216.6 722.7,252.7 708.9,288.1 694.0,322.3 679.1,352.9 663.0,382.6 647.0,409.4 626.2,440.3 604.2,469.4 585.5,491.7 552.6,528.4 491.7,603.2 474.7,622.1 457.6,639.5 441.6,654.1 424.1,668.3M792.1,145.9 780.2,187.0 767.2,227.5 754.4,263.8 740.5,299.3 725.4,333.6 710.4,364.4 694.3,394.3 678.2,421.2 657.4,452.3 634.1,483.1 615.4,505.5 579.9,544.9 520.0,618.5 502.9,637.5 485.8,655.0 469.7,669.7 452.2,684.0M827.0,154.9 814.9,196.4 801.8,237.3 787.6,277.0 773.6,312.4 758.5,346.7 743.4,377.5 727.2,407.4 709.8,436.1 687.8,468.7 664.5,499.2 645.7,521.4 609.0,561.8 548.8,634.8 531.7,653.7 514.5,671.1 498.3,685.9 480.8,700.3M864.6,162.5 852.3,204.6 839.1,246.0 824.8,286.1 810.6,322.0 795.4,356.7 779.1,390.0 761.7,421.9 744.3,450.5 721.0,484.6 696.5,516.2 675.3,540.8 638.5,580.4 579.3,650.7 562.1,669.5 544.9,686.9 527.5,702.7 509.9,717.0M904.7,172.4 891.1,218.9 877.7,260.2 863.3,300.3 849.1,336.0 833.8,370.6 817.5,403.8 800.0,435.6 781.4,465.9 766.3,488.3 750.0,510.4 732.4,532.4 714.8,552.7 669.7,600.0 617.7,659.9 594.4,685.2 567.1,711.5 539.5,734.3M964.0,171.4 950.1,220.3 935.3,267.1 919.6,311.4 904.2,350.2 887.8,387.0 870.3,421.8 851.8,454.6 831.0,487.2 812.5,513.1 794.0,536.6 774.3,559.5 753.3,581.9 734.5,600.3 700.0,632.5 649.2,684.5 625.9,707.3 598.6,731.4 569.6,753.7M1047.2,515.6 1023.9,535.7 996.4,556.5 964.4,578.3 925.6,602.5 883.8,626.9 832.2,655.8 654.1,751.9M1028.9,179.4 1024.2,494.0 1024.9,548.1 1026.6,562.8M996.6,177.5 997.6,285.9 997.7,503.8 998.9,554.0 999.6,564.7 1001.5,576.1M557.3,74.6 580.8,41.0M958.3,178.2 962.6,228.9 965.3,281.8 967.9,364.6 971.2,532.8 973.0,572.0 974.9,586.2M531.3,164.0 565.6,129.9 588.5,108.3 608.7,90.8 628.2,75.7M886.5,166.4 895.0,179.9 902.3,193.0 908.2,205.8 912.9,217.9 917.5,232.4 922.0,250.4 928.2,286.5 932.9,328.5 936.2,372.1 939.0,425.1 944.5,557.7 946.9,588.9 948.9,600.4M505.0,230.9 561.6,193.7 581.5,182.1 600.7,172.3 619.1,164.5 636.7,158.8 653.4,155.1 670.3,153.2 687.4,153.4 704.6,155.6 722.0,160.1 738.4,166.3 755.0,174.6 772.8,185.8 790.7,199.1 808.7,214.7 824.4,229.8 840.2,246.4 854.7,263.5 865.6,277.9 874.1,291.1 881.3,304.9 887.2,319.3 891.7,333.8 896.2,351.9 899.4,368.7 905.4,412.8 909.8,462.2 917.7,579.9 920.4,605.2 922.5,614.6M478.5,282.9 535.7,258.9 556.5,251.4 574.4,245.9 592.6,241.5 610.0,238.7 627.6,237.3 644.3,237.5 661.2,239.3 678.3,242.8 695.5,248.1 711.7,254.6 728.1,262.8 745.8,273.3 763.6,285.6 781.5,299.6 797.1,313.1 812.8,327.9 826.2,341.6 837.1,354.2 845.6,365.7 851.6,375.6 857.5,387.6 862.2,399.5 866.8,414.4 870.2,428.1 876.6,464.1 881.5,504.3 890.6,600.2 893.6,621.0 895.8,628.8M451.6,324.6 509.5,310.8 530.1,306.7 547.9,304.1 566.0,302.3 583.2,301.7 600.7,302.2 617.2,303.9 634.0,306.9 650.9,311.3 668.0,317.1 685.3,324.3 701.6,332.5 719.1,342.6 736.8,354.2 754.7,367.2 784.7,391.8 798.0,404.1 807.8,414.1 816.2,424.1 822.3,432.6 828.3,442.8 833.0,452.9 837.7,465.4 841.2,476.8 847.9,506.6 853.1,539.8 863.1,619.2 866.3,636.5 868.6,643.2M424.4,359.1 484.0,353.2 522.3,351.5 540.3,351.8 557.4,352.9 574.7,355.0 591.2,358.0 607.9,362.0 624.7,367.2 641.7,373.5 658.9,381.0 675.1,389.2 692.6,399.1 710.2,410.1 728.0,422.4 758.0,445.3 779.8,464.7 788.3,473.9 794.3,481.6 800.4,490.8 805.1,500.0 812.2,517.8 819.1,542.9 824.6,570.8 835.3,637.3 838.6,652.0 841.0,657.8M396.7,388.3 457.2,389.1 495.3,391.2 530.2,395.6 563.9,402.8 580.4,407.6 597.2,413.4 614.1,420.1 631.2,427.8 664.7,445.6 700.1,467.9 730.0,489.5 751.8,507.6 765.1,521.6 771.2,529.8 776.0,537.8 783.2,553.3 790.2,574.7 795.9,598.4 807.1,654.9 811.7,670.3M368.7,413.8 430.0,420.1 467.9,425.3 503.8,432.3 536.2,441.0 569.4,452.7 603.3,467.7 636.7,485.4 672.0,507.1 700.6,526.8 722.4,543.7 735.7,556.5 741.8,563.9 746.7,571.0 753.9,584.5 761.0,603.1 766.9,623.5 778.4,672.0 783.1,685.5M340.2,436.6 402.3,447.5 440.2,455.2 475.9,464.2 508.3,474.4 541.3,487.0 575.1,502.5 609.6,520.9 644.8,542.2 672.2,560.5 692.7,575.7 706.1,587.6 717.0,600.7 725.5,615.1 732.8,632.3 738.7,650.8 749.3,689.0 754.1,700.8M311.4,458.8 375.4,474.6 412.1,484.5 447.8,495.5 480.0,507.0 512.9,520.7 546.6,536.7 581.0,555.1 616.1,576.0 643.5,593.7 664.0,608.3 677.3,619.6 688.3,631.8 695.6,642.9 702.9,657.8 708.9,673.6 719.8,706.1 724.6,716.3M282.3,482.7 382.8,516.3 418.3,529.6 450.4,542.7 484.3,557.9 517.8,574.6 551.0,592.4 585.9,612.8 613.2,629.7 633.6,643.4 647.0,653.7 656.7,662.9 665.3,673.5 672.6,685.6 678.7,698.2 689.7,723.9 693.4,730.6M252.8,505.9 354.1,547.6 421.6,577.7 455.3,594.1 488.8,611.4 521.8,629.4 556.6,649.4 604.2,678.6 617.5,688.0 627.2,696.2 634.6,703.7 641.9,713.1 659.2,741.9 662.9,747.0M222.8,527.0 325.0,575.3 391.2,608.0 457.0,642.7 524.5,680.5 571.9,708.6 594.9,724.1 603.5,731.2 610.9,738.5 630.6,762.4" stroke="#1a1a08" stroke-opacity="0.7" stroke-width="1.35" fill="none" clip-path="url(#cpNoY)"/>
<path d="M580.3,44.0 569.8,94.5 558.3,141.5 545.7,184.6 533.1,221.0 519.3,254.7 503.4,287.8 486.2,317.7 466.8,346.4 446.0,372.5 422.8,397.4 397.1,421.4 368.7,444.5 336.4,467.7 301.2,490.6 260.4,514.6 215.1,539.3M597.9,56.5 587.2,107.4 576.6,150.8 563.9,194.9 551.1,232.3 537.2,266.8 521.2,300.6 503.9,331.3 485.4,359.1 464.5,385.9 442.2,410.4 417.5,434.1 390.1,457.0 358.9,480.3 323.5,503.8 283.9,527.8 239.7,552.5M616.9,68.1 606.1,119.6 595.4,163.6 582.5,208.4 569.5,246.3 555.5,281.3 539.3,315.6 523.0,344.8 504.3,373.3 484.4,399.3 462.1,424.5 438.3,447.7 410.8,471.3 380.6,494.3 346.3,517.6 307.7,541.5 264.7,566.1M637.5,78.6 626.5,131.1 615.6,175.9 603.6,217.9 590.5,257.0 576.4,293.0 561.1,326.1 544.6,356.4 525.9,385.8 505.9,412.7 484.5,437.3 460.7,461.2 433.1,485.5 402.7,509.0 369.5,532.1 332.0,555.7 290.1,580.1M658.4,93.8 647.2,146.6 636.2,191.7 624.0,234.0 610.8,273.4 596.5,309.7 581.1,342.9 564.5,373.4 546.8,401.4 526.6,428.6 505.1,453.6 481.1,477.9 455.7,500.5 426.4,523.6 394.3,546.3 357.9,569.7 315.9,594.6M682.0,101.8 671.8,151.2 660.5,198.2 648.2,242.3 634.9,283.2 620.4,320.7 606.0,352.8 589.3,384.5 571.4,413.5 552.3,440.2 530.7,466.0 506.6,491.0 481.1,514.2 451.8,537.9 419.5,561.1 383.1,585.0 342.2,609.6M706.0,114.2 695.6,164.5 684.2,212.3 671.7,257.1 658.2,298.6 643.6,336.6 629.1,369.0 613.4,399.1 595.4,428.7 576.1,455.7 554.4,482.0 531.4,506.2 505.8,529.8 477.5,552.9 445.2,576.6 409.9,600.0 368.9,625.0M731.7,124.7 721.0,176.3 709.4,225.3 696.8,271.0 684.2,310.0 670.6,346.4 654.8,382.5 639.0,413.3 620.9,443.5 601.5,471.0 580.9,496.4 557.8,521.1 532.1,545.1 503.8,568.6 472.6,591.7 437.2,615.5 396.1,640.9M757.7,139.5 746.9,191.9 735.0,241.5 722.2,287.7 709.6,327.1 695.8,363.7 681.0,397.7 665.1,429.0 646.8,459.6 627.4,487.5 606.7,513.1 583.5,538.0 558.9,561.1 530.4,584.9 499.2,608.2 463.7,632.3 423.8,657.2M785.3,152.2 774.3,205.7 762.3,256.2 750.4,299.3 737.6,339.8 723.7,377.5 708.8,412.2 692.7,444.1 674.4,475.2 656.0,501.9 635.2,528.0 612.0,553.4 587.3,576.8 558.8,600.9 527.5,624.5 491.9,648.8 452.0,673.9M814.7,162.2 803.4,217.4 791.1,269.3 779.1,313.4 766.1,354.7 752.1,393.1 737.0,428.3 720.9,460.6 703.6,490.2 685.1,517.4 664.3,543.9 640.9,569.5 616.2,593.2 587.6,617.4 556.2,641.2 520.6,665.7 480.6,691.0M845.7,169.2 834.1,226.5 822.9,275.3 810.6,321.6 797.4,364.7 783.2,404.5 768.0,441.0 751.8,474.2 734.4,504.5 715.8,532.3 694.9,559.2 671.5,585.1 646.8,609.1 618.1,633.6 586.7,657.6 551.1,682.3 509.7,708.6M875.9,186.7 864.1,244.7 852.6,294.0 840.2,340.6 826.8,383.9 812.5,423.8 797.2,460.3 780.8,493.5 763.3,523.7 744.7,551.3 723.7,578.1 700.3,603.9 675.4,627.8 647.9,651.2 616.5,675.3 580.8,700.0 539.4,726.5M909.2,193.7 897.0,254.1 885.3,305.2 872.7,353.3 859.1,397.9 844.6,438.7 830.3,473.2 813.8,507.4 796.2,538.3 777.6,566.4 756.5,593.6 734.2,618.5 708.2,643.8 679.5,668.4 648.0,692.5 611.0,718.2 569.6,744.8M942.9,203.8 930.4,266.2 918.5,318.8 905.6,368.2 891.8,413.7 877.2,455.2 862.7,490.2 846.1,524.6 828.5,555.7 809.7,584.0 788.6,611.2 766.3,636.1 740.2,661.4 711.5,686.0 680.0,710.2 643.0,735.9 600.3,763.4M557.2,65.1 575.6,40.6M531.3,166.5 561.6,144.3 644.6,81.7M505.1,237.5 596.6,206.4 626.8,197.4 654.4,190.6 682.6,185.1 709.0,181.7 734.7,180.1 759.6,180.4 786.2,182.9 811.9,187.3 837.9,194.0 863.0,202.6 889.7,213.8 915.3,226.8 941.3,241.9 968.7,260.0M478.6,290.1 524.8,285.8 557.8,283.4 587.5,282.3 615.6,282.3 643.1,283.5 668.9,286.0 695.1,290.0 720.6,295.3 746.5,302.2 772.8,310.9 799.4,321.3 825.2,332.9 851.2,346.2 878.9,361.8 906.9,379.3 935.2,398.3M451.8,330.9 522.3,337.0 551.5,340.7 579.2,345.1 606.4,350.5 632.9,356.8 658.7,364.1 684.9,372.7 711.6,382.6 737.4,393.5 763.7,405.7 790.3,419.2 817.2,434.1 844.5,450.2 873.4,468.4 904.0,488.8M424.5,364.1 489.6,377.3 545.0,391.4 571.9,399.4 598.1,408.1 623.6,417.4 649.6,427.8 675.9,439.3 701.5,451.4 754.9,479.2 811.1,512.0 874.0,552.2M396.9,392.0 457.7,409.5 511.7,427.3 564.3,447.4 615.3,469.7 666.8,494.9 721.0,524.3 779.3,558.6 844.4,599.5M368.8,416.3 426.4,436.4 479.0,456.8 530.3,478.8 581.0,502.7 633.2,529.6 687.1,559.6 746.3,594.4 814.9,636.8M340.3,438.0 394.8,459.6 446.1,481.6 497.0,505.2 547.4,530.4 598.2,557.5 652.9,588.3 713.1,623.8 785.3,667.9M311.3,457.8 363.7,480.5 413.8,503.6 462.3,527.5 512.4,553.5 564.1,581.7 618.5,612.8 679.6,648.9 755.4,694.7M281.9,476.2 332.1,499.6 381.0,523.4 429.3,548.2 478.1,574.3 528.4,602.4 583.7,634.3 725.1,718.8M252.1,493.6 300.2,517.2 347.8,541.6 394.9,566.5 443.4,593.2 547.3,653.1 694.4,741.1M221.8,510.3 314.2,558.5 408.3,610.7 510.5,670.4 663.2,762.2" stroke="#1a1a08" stroke-opacity="0.7" stroke-width="1.35" fill="none" clip-path="url(#cpPG)"/>
<path d="M580.3,44.0 569.8,94.5 558.3,141.5 545.7,184.6 533.1,221.0 519.3,254.7 503.4,287.8 486.2,317.7 466.8,346.4 446.0,372.5 422.8,397.4 397.1,421.4 368.7,444.5 336.4,467.7 301.2,490.6 260.4,514.6 215.1,539.3M597.9,56.5 587.2,107.4 576.6,150.8 563.9,194.9 551.1,232.3 537.2,266.8 521.2,300.6 503.9,331.3 485.4,359.1 464.5,385.9 442.2,410.4 417.5,434.1 390.1,457.0 358.9,480.3 323.5,503.8 283.9,527.8 239.7,552.5M616.9,68.1 606.1,119.6 595.4,163.6 582.5,208.4 569.5,246.3 555.5,281.3 539.3,315.6 523.0,344.8 504.3,373.3 484.4,399.3 462.1,424.5 438.3,447.7 410.8,471.3 380.6,494.3 346.3,517.6 307.7,541.5 264.7,566.1M637.5,78.6 626.5,131.1 615.6,175.9 603.6,217.9 590.5,257.0 576.4,293.0 561.1,326.1 544.6,356.4 525.9,385.8 505.9,412.7 484.5,437.3 460.7,461.2 433.1,485.5 402.7,509.0 369.5,532.1 332.0,555.7 290.1,580.1M658.4,93.8 647.2,146.6 636.2,191.7 624.0,234.0 610.8,273.4 596.5,309.7 581.1,342.9 564.5,373.4 546.8,401.4 526.6,428.6 505.1,453.6 481.1,477.9 455.7,500.5 426.4,523.6 394.3,546.3 357.9,569.7 315.9,594.6M682.0,101.8 671.8,151.2 660.5,198.2 648.2,242.3 634.9,283.2 620.4,320.7 606.0,352.8 589.3,384.5 571.4,413.5 552.3,440.2 530.7,466.0 506.6,491.0 481.1,514.2 451.8,537.9 419.5,561.1 383.1,585.0 342.2,609.6M706.0,114.2 695.6,164.5 684.2,212.3 671.7,257.1 658.2,298.6 643.6,336.6 629.1,369.0 613.4,399.1 595.4,428.7 576.1,455.7 554.4,482.0 531.4,506.2 505.8,529.8 477.5,552.9 445.2,576.6 409.9,600.0 368.9,625.0M731.7,124.7 721.0,176.3 709.4,225.3 696.8,271.0 684.2,310.0 670.6,346.4 654.8,382.5 639.0,413.3 620.9,443.5 601.5,471.0 580.9,496.4 557.8,521.1 532.1,545.1 503.8,568.6 472.6,591.7 437.2,615.5 396.1,640.9M757.7,139.5 746.9,191.9 735.0,241.5 722.2,287.7 709.6,327.1 695.8,363.7 681.0,397.7 665.1,429.0 646.8,459.6 627.4,487.5 606.7,513.1 583.5,538.0 558.9,561.1 530.4,584.9 499.2,608.2 463.7,632.3 423.8,657.2M785.3,152.2 774.3,205.7 762.3,256.2 750.4,299.3 737.6,339.8 723.7,377.5 708.8,412.2 692.7,444.1 674.4,475.2 656.0,501.9 635.2,528.0 612.0,553.4 587.3,576.8 558.8,600.9 527.5,624.5 491.9,648.8 452.0,673.9M814.7,162.2 803.4,217.4 791.1,269.3 779.1,313.4 766.1,354.7 752.1,393.1 737.0,428.3 720.9,460.6 703.6,490.2 685.1,517.4 664.3,543.9 640.9,569.5 616.2,593.2 587.6,617.4 556.2,641.2 520.6,665.7 480.6,691.0M845.7,169.2 834.1,226.5 822.9,275.3 810.6,321.6 797.4,364.7 783.2,404.5 768.0,441.0 751.8,474.2 734.4,504.5 715.8,532.3 694.9,559.2 671.5,585.1 646.8,609.1 618.1,633.6 586.7,657.6 551.1,682.3 509.7,708.6M875.9,186.7 864.1,244.7 852.6,294.0 840.2,340.6 826.8,383.9 812.5,423.8 797.2,460.3 780.8,493.5 763.3,523.7 744.7,551.3 723.7,578.1 700.3,603.9 675.4,627.8 647.9,651.2 616.5,675.3 580.8,700.0 539.4,726.5M909.2,193.7 897.0,254.1 885.3,305.2 872.7,353.3 859.1,397.9 844.6,438.7 830.3,473.2 813.8,507.4 796.2,538.3 777.6,566.4 756.5,593.6 734.2,618.5 708.2,643.8 679.5,668.4 648.0,692.5 611.0,718.2 569.6,744.8M942.9,203.8 930.4,266.2 918.5,318.8 905.6,368.2 891.8,413.7 877.2,455.2 862.7,490.2 846.1,524.6 828.5,555.7 809.7,584.0 788.6,611.2 766.3,636.1 740.2,661.4 711.5,686.0 680.0,710.2 643.0,735.9 600.3,763.4M557.2,65.1 575.6,40.6M531.3,166.5 561.6,144.3 644.6,81.7M505.1,237.5 596.6,206.4 626.8,197.4 654.4,190.6 682.6,185.1 709.0,181.7 734.7,180.1 759.6,180.4 786.2,182.9 811.9,187.3 837.9,194.0 863.0,202.6 889.7,213.8 915.3,226.8 941.3,241.9 968.7,260.0M478.6,290.1 524.8,285.8 557.8,283.4 587.5,282.3 615.6,282.3 643.1,283.5 668.9,286.0 695.1,290.0 720.6,295.3 746.5,302.2 772.8,310.9 799.4,321.3 825.2,332.9 851.2,346.2 878.9,361.8 906.9,379.3 935.2,398.3M451.8,330.9 522.3,337.0 551.5,340.7 579.2,345.1 606.4,350.5 632.9,356.8 658.7,364.1 684.9,372.7 711.6,382.6 737.4,393.5 763.7,405.7 790.3,419.2 817.2,434.1 844.5,450.2 873.4,468.4 904.0,488.8M424.5,364.1 489.6,377.3 545.0,391.4 571.9,399.4 598.1,408.1 623.6,417.4 649.6,427.8 675.9,439.3 701.5,451.4 754.9,479.2 811.1,512.0 874.0,552.2M396.9,392.0 457.7,409.5 511.7,427.3 564.3,447.4 615.3,469.7 666.8,494.9 721.0,524.3 779.3,558.6 844.4,599.5M368.8,416.3 426.4,436.4 479.0,456.8 530.3,478.8 581.0,502.7 633.2,529.6 687.1,559.6 746.3,594.4 814.9,636.8M340.3,438.0 394.8,459.6 446.1,481.6 497.0,505.2 547.4,530.4 598.2,557.5 652.9,588.3 713.1,623.8 785.3,667.9M311.3,457.8 363.7,480.5 413.8,503.6 462.3,527.5 512.4,553.5 564.1,581.7 618.5,612.8 679.6,648.9 755.4,694.7M281.9,476.2 332.1,499.6 381.0,523.4 429.3,548.2 478.1,574.3 528.4,602.4 583.7,634.3 725.1,718.8M252.1,493.6 300.2,517.2 347.8,541.6 394.9,566.5 443.4,593.2 547.3,653.1 694.4,741.1M221.8,510.3 314.2,558.5 408.3,610.7 510.5,670.4 663.2,762.2" stroke="#1a1a08" stroke-opacity="0.25" stroke-width="1.2" fill="none" clip-path="url(#cpNoY)"/>
<path d="M591.0,39.1 580.6,89.6 569.1,136.1 556.5,178.5 543.9,214.3 529.1,249.7 513.2,281.6 496.1,310.6 476.7,338.6 454.9,365.2 431.7,389.5 405.0,414.0 375.5,437.5 342.1,461.3 304.6,485.3 262.7,509.8 214.9,535.7M608.7,52.3 598.1,102.4 586.4,148.8 573.7,191.4 560.9,227.4 547.1,260.6 531.0,293.3 513.7,322.9 494.2,351.5 473.3,377.5 450.1,402.5 424.2,426.6 394.6,450.9 362.2,474.5 325.7,498.5 284.9,523.0 239.5,548.3M626.7,67.6 615.9,117.3 605.2,159.6 592.3,202.6 579.4,239.1 565.4,272.8 549.2,306.0 531.8,336.2 512.1,365.3 491.1,391.8 468.8,416.2 443.9,439.9 415.3,464.0 383.9,487.4 348.5,511.4 308.7,535.9 264.4,561.2M647.3,74.3 636.3,125.0 625.4,168.1 612.4,212.1 599.3,249.4 585.2,283.9 568.8,317.9 551.3,348.8 532.5,377.0 511.4,404.3 489.0,429.4 464.0,453.8 436.4,477.5 406.0,500.8 371.6,524.7 333.0,549.1 289.8,574.4M667.2,88.8 656.1,139.4 645.0,182.5 631.7,226.6 618.6,264.1 604.3,298.8 588.9,330.9 572.3,360.5 553.4,389.5 533.3,416.2 510.7,442.1 486.8,466.1 459.0,490.7 428.6,514.7 395.2,538.3 357.7,562.7 315.6,587.9M688.6,100.2 677.3,151.2 666.0,194.8 653.8,236.0 640.4,274.4 626.0,310.0 610.4,342.9 593.7,373.3 574.7,403.0 554.4,430.3 532.9,455.5 508.8,480.2 482.1,504.3 452.7,528.1 419.3,552.4 382.8,576.6 341.9,601.7M710.5,113.9 698.9,165.2 687.5,209.0 675.1,250.4 661.6,289.1 647.0,325.1 631.3,358.3 614.5,389.0 596.4,417.4 577.2,443.7 555.5,469.6 531.3,494.9 505.6,518.6 477.3,542.0 444.9,566.1 408.4,591.0 368.6,615.9M733.9,124.4 722.1,176.4 710.6,221.0 697.9,263.1 684.3,302.4 669.6,338.9 654.9,370.4 637.9,401.9 619.7,431.0 600.3,458.0 578.5,484.4 555.3,509.1 529.6,533.4 501.1,557.4 469.9,581.2 434.4,605.8 395.8,630.5M757.7,137.3 745.8,189.8 734.0,234.8 721.3,277.4 708.6,314.1 693.7,351.5 678.9,383.7 662.9,413.9 644.6,443.8 625.1,471.5 604.3,497.4 581.0,522.8 555.2,547.7 527.8,571.3 496.5,595.8 462.1,620.1 423.4,645.5M782.0,152.5 769.9,205.3 757.9,250.6 745.0,293.4 732.2,330.3 718.3,365.3 703.3,398.1 687.2,428.8 668.8,459.3 650.3,485.9 629.4,512.3 606.1,538.3 581.3,562.7 553.8,586.8 523.6,610.8 489.1,635.7 451.6,660.8M808.0,164.4 796.8,213.0 784.7,259.7 771.6,303.7 758.6,341.7 744.5,377.6 729.4,411.3 713.2,442.7 694.6,473.9 676.0,501.1 655.0,528.0 632.7,553.2 607.8,578.2 581.5,601.8 551.1,626.4 517.9,650.9 480.3,676.5M835.7,172.7 824.3,222.6 811.9,270.5 798.6,315.6 785.5,354.5 771.3,391.2 756.0,425.6 739.6,457.7 722.1,487.6 703.4,515.5 682.3,543.0 659.9,568.8 636.1,593.1 609.6,617.3 579.2,642.4 545.9,667.5 509.4,692.7M862.6,189.1 851.0,239.4 838.4,287.5 826.2,329.1 812.8,368.7 798.5,406.1 783.1,441.0 766.6,473.6 748.9,504.0 730.1,532.3 710.1,558.8 687.5,585.1 663.7,609.8 637.1,634.4 607.8,658.9 575.6,683.6 539.1,709.3M891.2,202.0 879.4,253.1 866.7,302.0 854.2,344.2 840.7,384.4 826.2,422.2 810.6,457.7 795.2,488.4 777.4,519.4 758.5,548.3 738.3,575.3 716.9,600.7 692.9,625.9 666.3,651.0 637.0,676.0 604.7,701.0 569.4,726.3M921.7,210.8 909.7,263.4 896.7,313.6 884.0,356.9 870.3,398.0 855.6,436.7 841.1,470.3 825.5,502.0 807.6,533.8 788.6,563.4 768.3,591.0 746.8,616.9 722.8,642.6 696.1,668.2 667.9,692.5 635.6,718.0 600.2,743.8M557.6,103.5 583.1,78.4 608.2,51.3M531.6,190.8 567.0,171.9 603.6,149.8 641.3,124.4 681.4,95.0M505.4,252.7 531.4,246.7 559.0,239.5 618.1,221.5 679.1,200.3 799.0,155.9M478.8,299.3 518.8,297.7 563.2,294.8 726.7,280.2 796.8,275.3 835.6,273.8 871.6,273.3 907.0,273.8 940.5,275.3M451.9,336.1 515.2,342.1 664.4,354.3 740.3,362.2 785.3,368.2 827.7,374.9 868.6,382.6 907.9,391.2M424.6,366.6 601.4,401.1 694.7,421.5 742.3,433.3 788.9,446.0 832.9,459.1 876.8,473.4M396.9,392.7 553.3,435.6 606.3,451.0 655.3,466.1 704.7,482.2 753.1,499.1 800.4,516.7 846.5,535.0M368.8,415.6 512.9,463.7 618.2,501.4 669.5,521.1 718.7,541.0 768.1,561.9 816.4,583.4M340.2,436.4 475.4,487.7 582.1,530.7 634.1,552.9 685.4,575.7 786.3,623.1M311.2,455.6 439.8,509.1 548.0,556.6 651.9,605.1 756.1,656.9M281.8,473.6 405.8,529.0 513.5,579.4 619.2,631.5 725.5,686.6M251.9,490.8 372.5,547.8 479.6,600.5 586.1,655.3 694.7,713.5M221.6,507.4 338.7,565.4 445.4,620.1 552.6,677.2 663.3,738.3" stroke="#1a1a08" stroke-opacity="0.7" stroke-width="1.35" fill="none" clip-path="url(#cpPG)"/>
<path d="M591.0,39.1 580.6,89.6 569.1,136.1 556.5,178.5 543.9,214.3 529.1,249.7 513.2,281.6 496.1,310.6 476.7,338.6 454.9,365.2 431.7,389.5 405.0,414.0 375.5,437.5 342.1,461.3 304.6,485.3 262.7,509.8 214.9,535.7M608.7,52.3 598.1,102.4 586.4,148.8 573.7,191.4 560.9,227.4 547.1,260.6 531.0,293.3 513.7,322.9 494.2,351.5 473.3,377.5 450.1,402.5 424.2,426.6 394.6,450.9 362.2,474.5 325.7,498.5 284.9,523.0 239.5,548.3M626.7,67.6 615.9,117.3 605.2,159.6 592.3,202.6 579.4,239.1 565.4,272.8 549.2,306.0 531.8,336.2 512.1,365.3 491.1,391.8 468.8,416.2 443.9,439.9 415.3,464.0 383.9,487.4 348.5,511.4 308.7,535.9 264.4,561.2M647.3,74.3 636.3,125.0 625.4,168.1 612.4,212.1 599.3,249.4 585.2,283.9 568.8,317.9 551.3,348.8 532.5,377.0 511.4,404.3 489.0,429.4 464.0,453.8 436.4,477.5 406.0,500.8 371.6,524.7 333.0,549.1 289.8,574.4M667.2,88.8 656.1,139.4 645.0,182.5 631.7,226.6 618.6,264.1 604.3,298.8 588.9,330.9 572.3,360.5 553.4,389.5 533.3,416.2 510.7,442.1 486.8,466.1 459.0,490.7 428.6,514.7 395.2,538.3 357.7,562.7 315.6,587.9M688.6,100.2 677.3,151.2 666.0,194.8 653.8,236.0 640.4,274.4 626.0,310.0 610.4,342.9 593.7,373.3 574.7,403.0 554.4,430.3 532.9,455.5 508.8,480.2 482.1,504.3 452.7,528.1 419.3,552.4 382.8,576.6 341.9,601.7M710.5,113.9 698.9,165.2 687.5,209.0 675.1,250.4 661.6,289.1 647.0,325.1 631.3,358.3 614.5,389.0 596.4,417.4 577.2,443.7 555.5,469.6 531.3,494.9 505.6,518.6 477.3,542.0 444.9,566.1 408.4,591.0 368.6,615.9M733.9,124.4 722.1,176.4 710.6,221.0 697.9,263.1 684.3,302.4 669.6,338.9 654.9,370.4 637.9,401.9 619.7,431.0 600.3,458.0 578.5,484.4 555.3,509.1 529.6,533.4 501.1,557.4 469.9,581.2 434.4,605.8 395.8,630.5M757.7,137.3 745.8,189.8 734.0,234.8 721.3,277.4 708.6,314.1 693.7,351.5 678.9,383.7 662.9,413.9 644.6,443.8 625.1,471.5 604.3,497.4 581.0,522.8 555.2,547.7 527.8,571.3 496.5,595.8 462.1,620.1 423.4,645.5M782.0,152.5 769.9,205.3 757.9,250.6 745.0,293.4 732.2,330.3 718.3,365.3 703.3,398.1 687.2,428.8 668.8,459.3 650.3,485.9 629.4,512.3 606.1,538.3 581.3,562.7 553.8,586.8 523.6,610.8 489.1,635.7 451.6,660.8M808.0,164.4 796.8,213.0 784.7,259.7 771.6,303.7 758.6,341.7 744.5,377.6 729.4,411.3 713.2,442.7 694.6,473.9 676.0,501.1 655.0,528.0 632.7,553.2 607.8,578.2 581.5,601.8 551.1,626.4 517.9,650.9 480.3,676.5M835.7,172.7 824.3,222.6 811.9,270.5 798.6,315.6 785.5,354.5 771.3,391.2 756.0,425.6 739.6,457.7 722.1,487.6 703.4,515.5 682.3,543.0 659.9,568.8 636.1,593.1 609.6,617.3 579.2,642.4 545.9,667.5 509.4,692.7M862.6,189.1 851.0,239.4 838.4,287.5 826.2,329.1 812.8,368.7 798.5,406.1 783.1,441.0 766.6,473.6 748.9,504.0 730.1,532.3 710.1,558.8 687.5,585.1 663.7,609.8 637.1,634.4 607.8,658.9 575.6,683.6 539.1,709.3M891.2,202.0 879.4,253.1 866.7,302.0 854.2,344.2 840.7,384.4 826.2,422.2 810.6,457.7 795.2,488.4 777.4,519.4 758.5,548.3 738.3,575.3 716.9,600.7 692.9,625.9 666.3,651.0 637.0,676.0 604.7,701.0 569.4,726.3M921.7,210.8 909.7,263.4 896.7,313.6 884.0,356.9 870.3,398.0 855.6,436.7 841.1,470.3 825.5,502.0 807.6,533.8 788.6,563.4 768.3,591.0 746.8,616.9 722.8,642.6 696.1,668.2 667.9,692.5 635.6,718.0 600.2,743.8M557.6,103.5 583.1,78.4 608.2,51.3M531.6,190.8 567.0,171.9 603.6,149.8 641.3,124.4 681.4,95.0M505.4,252.7 531.4,246.7 559.0,239.5 618.1,221.5 679.1,200.3 799.0,155.9M478.8,299.3 518.8,297.7 563.2,294.8 726.7,280.2 796.8,275.3 835.6,273.8 871.6,273.3 907.0,273.8 940.5,275.3M451.9,336.1 515.2,342.1 664.4,354.3 740.3,362.2 785.3,368.2 827.7,374.9 868.6,382.6 907.9,391.2M424.6,366.6 601.4,401.1 694.7,421.5 742.3,433.3 788.9,446.0 832.9,459.1 876.8,473.4M396.9,392.7 553.3,435.6 606.3,451.0 655.3,466.1 704.7,482.2 753.1,499.1 800.4,516.7 846.5,535.0M368.8,415.6 512.9,463.7 618.2,501.4 669.5,521.1 718.7,541.0 768.1,561.9 816.4,583.4M340.2,436.4 475.4,487.7 582.1,530.7 634.1,552.9 685.4,575.7 786.3,623.1M311.2,455.6 439.8,509.1 548.0,556.6 651.9,605.1 756.1,656.9M281.8,473.6 405.8,529.0 513.5,579.4 619.2,631.5 725.5,686.6M251.9,490.8 372.5,547.8 479.6,600.5 586.1,655.3 694.7,713.5M221.6,507.4 338.7,565.4 445.4,620.1 552.6,677.2 663.3,738.3" stroke="#1a1a08" stroke-opacity="0.25" stroke-width="1.2" fill="none" clip-path="url(#cpNoY)"/>
<path d="M958.2,170C958.8,180 960.8,211.4 962,230C963.2,248.6 964.2,263.5 965.5,281.8C966.8,300.1 968.5,320.3 970,340C971.5,359.7 973,383.3 974.5,400C976,416.7 977.7,427.5 978.9,440C980.1,452.5 980.5,463.8 981.7,475C982.9,486.2 984,496.6 985.9,507.1C987.8,517.6 990.3,528.6 992.9,537.9C995.5,547.2 998.3,554.5 1001.3,563.1C1004.3,571.7 1009.4,585.3 1011,589.7M978.2,171C977,178.8 972.9,204.8 970.9,218C968.9,231.2 966.8,244.7 966,250M923.6,170C922.8,175 920.4,190 919,200C917.6,210 915.7,225 915,230M1007.3,170C1007.4,188.3 1007.7,241.7 1008,280C1008.3,318.3 1008.5,373.3 1009,400C1009.5,426.7 1010.4,427.5 1011,440C1011.6,452.5 1011.7,463.4 1012.4,475C1013.1,486.6 1014.3,499.4 1015.2,509.9C1016.1,520.4 1016.7,529.5 1018,537.9C1019.3,546.3 1021,554 1022.9,560.3C1024.8,566.6 1028.2,573.1 1029.2,575.7M928,420C928.8,423.3 931,432 932.7,440C934.4,448 936,458 938.3,468C940.6,478 943.4,488.5 946.7,500.1C950,511.8 953.7,526.2 957.9,537.9C962.1,549.6 967.2,559.1 971.9,570.1C976.6,581.1 983.6,598 985.9,603.6M896,505C897,507.2 899.1,511.4 902,518.3C904.9,525.2 908.5,535.1 913.1,546.3C917.8,557.5 924.8,575.5 929.9,585.5C935,595.5 938.8,600.3 943.9,606.4C949,612.5 957.9,619.4 960.7,622M860,552C861.4,553.4 864.9,555.6 868.4,560.3C871.9,564.9 874.9,571.5 881,579.9C887.1,588.3 898.5,602.2 904.8,610.6C911.1,619 916.4,626.8 918.7,630M850,600C851.7,598 854.8,594.7 860,588.3C865.2,581.9 874,572.4 881,561.7C888,551 895.7,537.2 902,523.9C908.3,510.6 914.1,496 918.7,482C923.4,468 926.4,453.7 929.9,440C933.4,426.3 938.3,406.7 940,400M860,640C863,638.1 870.7,633.7 878.2,628.8C885.7,623.9 896.2,617.6 904.8,610.6C913.4,603.6 921,597.1 929.9,586.9C938.8,576.6 949.7,562.4 957.9,549.1C966.1,535.8 971.9,521.8 978.9,507.1C985.9,492.4 994.5,470.6 999.9,461C1005.2,451.4 1008,449.8 1011,449.8C1014,449.8 1016.4,453.3 1018,461C1019.6,468.7 1020.1,483.2 1020.8,496C1021.5,508.8 1021,525.1 1022.2,537.9C1023.4,550.7 1025.7,566.1 1027.8,572.9C1029.9,579.7 1033.6,577.6 1034.8,578.5M740,715C742,713.6 743.7,712.5 752,706.7C760.3,700.9 774,690.4 790,680C806,669.6 833.8,654.4 848,644.4C862.2,634.4 870.5,624.1 875,620M780,712C782,710.4 782,709.2 792,702.2C802,695.2 824.5,680.4 840,670C855.5,659.6 874.2,648.3 885,640C895.8,631.7 901.7,623.3 905,620M760,680C761.8,681 766,683.2 771,686C776,688.8 784.5,694 790,697C795.5,700 799.5,701.2 803.7,703.7C807.9,706.2 813.1,710.6 815,712M800,643C801.3,644 803,645.3 808,649C813,652.7 823.3,660.3 830,665C836.7,669.7 843,673.5 848,677C853,680.5 858,684.5 860,686M840,600C841.7,602.2 845,606.3 850,613C855,619.7 865,632.2 870,640C875,647.8 878.3,656.7 880,660" stroke="#1a1a08" stroke-opacity="0.72" stroke-width="1.3" fill="none" clip-path="url(#cpY)"/>
<path d="M954.7,227.5C951.9,237.9 943.6,269 938,290C932.4,311 926.1,337.5 921.3,353.3C916.5,369.1 913.9,373.1 909.2,385C904.5,396.9 897.7,412.5 893,425C888.3,437.5 885.9,447.9 880.9,460C875.9,472.1 869.1,486.1 863.2,497.8C857.3,509.6 852.3,519 845.6,530.5C838.9,542 830.4,556.1 823,567C815.6,577.9 809.1,586.1 801.5,596C793.9,605.9 784.1,618.9 777.6,626.2C771.1,633.5 768,634.2 762.2,640C756.4,645.8 750.9,652.6 743,660.7C735.1,668.9 722,682 714.8,688.9C707.6,695.8 706.4,697.3 700,702.2C693.6,707.1 684.6,712.2 676.3,718.2C668,724.2 658.9,731.3 650,738C641.1,744.7 627.5,754.9 623,758.3M623,757.6C616.4,754 596.7,742.9 583.5,735.6C570.4,728.3 557.2,721 544.1,713.7C530.9,706.5 517.8,699.2 504.6,692C491.5,684.8 478.3,677.6 465.2,670.5C452,663.3 438.9,656.2 425.7,649.1C412.6,642 399.4,634.9 386.3,627.9C373.1,620.8 360,613.8 346.8,606.8C333.7,599.8 320.5,592.8 307.4,585.9C294.2,578.9 281.1,572 267.9,565.1C254.8,558.2 241.6,551.4 228.5,544.5C215.3,537.7 195.6,527.5 189,524.1M189.8,526.9C196.9,530.9 218.3,543.1 232.5,551.3C246.8,559.4 261,567.5 275.3,575.7C289.5,583.8 303.8,592 318,600.1C332.2,608.3 346.5,616.5 360.7,624.6C375,632.8 389.2,641 403.5,649.2C417.7,657.3 432,665.5 446.2,673.7C460.4,681.9 474.7,690.1 488.9,698.3C503.2,706.5 517.4,714.7 531.7,722.9C545.9,731.1 564.7,742.4 574.4,747.6C584.1,752.8 583.8,752.5 590,754C596.2,755.5 607.9,755.9 611.5,756.3M190.6,538.2C197.6,542.7 218.6,556.2 232.5,565.1C246.5,574 260.5,582.8 274.5,591.4C288.4,600.1 302.4,608.7 316.4,617.2C330.4,625.7 344.4,634.1 358.3,642.3C372.3,650.6 386.3,658.8 400.3,666.9C414.2,675 428.2,683 442.2,690.9C456.2,698.8 470.2,706.7 484.1,714.4C498.1,722.1 512.1,729.7 526.1,737.2C540,744.7 559.9,754.9 568,759.5C576.1,764 573.3,763.7 574.4,764.6M978.7,217.3C976.6,226.1 970,252.9 966,270C962,287.1 959.3,301.7 955,320C950.7,338.3 946,360 940.3,380C934.6,400 927.7,419.8 921,440C914.3,460.2 905.9,486.8 900,501.5C894.1,516.2 891,518.1 885.9,528C880.8,537.9 875.8,549 869.5,560.7C863.2,572.5 855.2,587.6 848.1,598.5C841,609.4 833.4,617.8 826.7,626.2C820,634.6 817.4,639 808.1,648.9C798.8,658.8 781.7,676.3 771.1,685.9C760.5,695.5 753.8,699 744.4,706.7C735,714.4 722.2,726.2 714.8,731.9C707.4,737.6 707.5,736.5 700,740.7C692.5,744.9 679.2,751.8 670,757C660.8,762.2 652.8,766.8 645,772C637.2,777.2 626.7,785.8 623,788.5M1050.2,571.9C1046.4,573.5 1038.1,575.9 1027.4,581.2C1016.7,586.6 998.1,597.5 986,604C973.9,610.5 969.1,612.3 954.8,620C940.5,627.7 915.8,640 900,650C884.2,660 876.7,670.6 860,679.9C843.3,689.2 817.3,698.5 800,706C782.7,713.5 771.3,719.6 756,724.6C740.7,729.6 720.7,732.4 708,735.8C695.3,739.2 684.7,743.5 680,745M826.7,171.1C848,180.5 933.4,218.1 954.7,227.5M748,131C786.5,145.4 940.2,202.9 978.7,217.3" stroke="#1e1408" stroke-opacity="0.8" stroke-width="1.2" fill="none"/>
<path d="M562,39.6C560.5,45.5 555.8,62.4 553,75C550.2,87.6 547.7,102.5 545,115C542.3,127.5 539.8,139.5 537,150C534.2,160.5 531.2,169.9 528.5,178C525.8,186.1 524.1,190 520.8,198.5C517.5,207 513.1,218.9 508.5,229.2C503.9,239.4 498.8,249 493.1,260C487.5,271 480.8,284.9 474.6,295.4C468.5,305.9 462.4,314.4 456.2,323.1C450,331.8 443.1,340.9 437.7,347.7C432.3,354.5 428.6,358.6 424,364C419.4,369.4 415.1,374.6 410.4,380C405.7,385.4 401.8,390.6 395.6,396.3C389.4,402 380.5,408.8 373.3,414.1C366.1,419.5 359.3,423.7 352.6,428.4C345.9,433.1 339.4,438.2 333,442.5C326.6,446.8 323.4,448.7 314.1,454.1C304.8,459.5 289.4,467.9 277,474.8C264.6,481.7 250.5,489.7 240,495.6C229.5,501.5 222.5,505.2 214,510C205.5,514.8 193.2,521.8 189,524.1" stroke="#1c2a08" stroke-width="1.6" fill="none"/>
<path d="M1028,156C1027.5,171.7 1026,221 1025,250C1024,279 1022.7,305 1022,330C1021.3,355 1021.1,376.7 1021,400C1020.9,423.3 1021.3,452.6 1021.5,470C1021.7,487.4 1021.7,492.5 1022.2,504.5C1022.7,516.5 1023.4,533.8 1024.3,541.8C1025.2,549.8 1024.8,549.4 1027.4,552.2C1030,555 1036.8,556.3 1039.9,558.4C1043,560.5 1044.4,562.4 1046.1,564.6C1047.8,566.9 1049.5,570.7 1050.2,571.9" stroke="#2a1a08" stroke-width="1.2" fill="none"/>
<path d="M748,131C755,133.1 775.8,139.5 790,143.5C804.2,147.5 819.7,152 833,155C846.3,158 856.7,159.6 870,161.5C883.3,163.4 901.3,165.4 913,166.7C924.7,167.9 931,168.4 940,169C949,169.6 958.4,170 966.7,170C975,170 983.3,169.6 990,169C996.7,168.4 1001.7,167.9 1006.7,166.7C1011.7,165.4 1016.5,163.3 1020,161.5C1023.5,159.7 1026.7,156.9 1028,156" stroke="#3a2a08" stroke-width="1.1" fill="none"/>
<path d="M179.7,564L152.8,157.2M283.7,623L262.2,204.7M395.3,686.3L380.1,255.9M515.2,754.4L507.5,311.2M171.3,552.9L623.2,808.5M163.9,442.8L623.1,685.9M156.2,329L622.9,558.7M148.3,211.4L622.7,426.5M1083.4,572.2L1110.5,164M975.4,629.3L996.8,210M859.9,690.5L874.6,259.4M735.9,756.1L742.9,312.7M1094.3,560.2L623.2,808.5M1101.8,449.7L623.1,685.9M1109.5,335.6L622.9,558.7M1117.5,217.6L622.7,426.5" stroke="#606060" stroke-opacity="0.55" stroke-width="1.2" stroke-dasharray="7 6" fill="none"/>
<path d="M144.4,153.5L639,1.6M639,1.6L1121.5,159.6M144.4,153.5L622.7,361.3M622.7,361.3L1121.5,159.6" stroke="#000" stroke-width="2.2" fill="none"/>
<path d="M144.4,153.5L171.7,559.4M622.7,361.3L623.2,815.7" stroke="#000" stroke-width="2.4" fill="none"/>
<path d="M1121.5,159.6L1093.8,566.7" stroke="#000" stroke-width="3.4" fill="none"/>
<path d="M171.7,559.4L623.2,815.7M623.2,815.7L1093.8,566.7" stroke="#000" stroke-width="4.2" fill="none" stroke-linejoin="miter"/>
<path d="M660.9,8.8h0.1M682.8,16.0h0.1M704.8,23.2h0.1M726.7,30.3h0.1M748.6,37.5h0.1M770.6,44.7h0.1M792.5,51.9h0.1M814.4,59.1h0.1M836.4,66.2h0.1M858.3,73.4h0.1M880.2,80.6h0.1M902.2,87.8h0.1M924.1,95.0h0.1M946.0,102.1h0.1M968.0,109.3h0.1M989.9,116.5h0.1M1011.8,123.7h0.1M1033.8,130.9h0.1M1055.7,138.0h0.1M1077.6,145.2h0.1M1099.5,152.4h0.1M639.1,10.5h0.1M639.1,31.6h0.1M639.1,53.4h0.1" stroke="#000" stroke-width="4.2" stroke-linecap="round" fill="none"/>
<path d="M179.7,564L192.9,558.6M283.7,623L297,617.2M395.3,686.3L408.6,680.1M515.2,754.4L528.7,747.7M1083.4,572.2L1070.6,566.6M975.4,629.3L962.5,623.3M859.9,690.5L846.9,684M735.9,756.1L722.9,749.1M1094.3,560.2L1087.6,557.3M1101.8,449.7L1095,446.9M1109.5,335.6L1102.6,333M1117.5,217.6L1110.5,215.2" stroke="#000" stroke-width="2.6" fill="none"/>
<defs><clipPath id="cb"><rect x="99" y="948" width="640" height="396"/></clipPath></defs>
<g clip-path="url(#cb)" fill="none" stroke-linejoin="round">
<polyline points="128.5,918.3 131.9,945.8 135.3,969.3 138.7,989.8 142.2,1007.9 145.6,1024 149,1038.5 152.4,1051.6 155.8,1063.6 159.2,1074.7 162.7,1084.9 166.1,1094.3 169.5,1103.1 172.9,1111.3 176.3,1119 179.7,1126.2 183.1,1133 186.6,1139.4 190,1145.5 193.4,1151.2 196.8,1156.7 200.2,1161.8 203.6,1166.8 207.1,1171.5 210.5,1176 213.9,1180.3 217.3,1184.4 220.7,1188.3 224.1,1192.1 227.5,1195.7 231,1199.2 234.4,1202.5 237.8,1205.7 241.2,1208.8 244.6,1211.8 248,1214.7 251.4,1217.5 254.9,1220.1 258.3,1222.7 261.7,1225.2 265.1,1227.7 268.5,1230 271.9,1232.3 275.4,1234.5 278.8,1236.6 282.2,1238.7 285.6,1240.7 289,1242.6 292.4,1244.5 295.8,1246.3 299.3,1248.1 302.7,1249.8 306.1,1251.5 309.5,1253.2 312.9,1254.8 316.3,1256.3 319.8,1257.8 323.2,1259.3 326.6,1260.7 330,1262.1 336.9,1264.8 343.8,1267.4 350.7,1269.9 357.6,1272.2 364.5,1274.4 371.4,1276.6 378.3,1278.6 385.3,1280.5 392.2,1282.4 399.1,1284.2 406,1285.9 412.9,1287.5 419.8,1289.1 426.7,1290.6 433.6,1292 440.5,1293.4 447.4,1294.8 454.3,1296 461.2,1297.3 468.1,1298.5 475,1299.6 481.9,1300.7 488.9,1301.8 495.8,1302.8 502.7,1303.8 509.6,1304.8 516.5,1305.7 523.4,1306.6 530.3,1307.5 537.2,1308.3 544.1,1309.1 551,1309.9 557.9,1310.6 564.8,1311.4 571.7,1312.1 578.6,1312.8 585.6,1313.5 592.5,1314.1 599.4,1314.7 606.3,1315.3 613.2,1315.9 620.1,1316.5 627,1317.1 633.9,1317.6 640.8,1318.1 647.7,1318.7 654.6,1319.2 661.5,1319.6 668.4,1320.1 675.3,1320.6 682.2,1321 689.2,1321.5 696.1,1321.9 703,1322.3 709.9,1322.7 716.8,1323.1 723.7,1323.5 730.6,1323.8 737.5,1324.2" stroke="#e01010" stroke-width="4.6" stroke-dasharray="4.2 3.6"/>
<polyline points="209.6,923.4 211.6,934.9 213.7,945.8 215.7,956.2 217.8,966 219.8,975.4 221.8,984.3 223.9,992.9 225.9,1001.1 228,1008.9 230,1016.5 232,1023.7 234.1,1030.6 236.1,1037.3 238.2,1043.8 240.2,1050 242.3,1056 244.3,1061.8 246.3,1067.5 248.4,1072.9 250.4,1078.2 252.5,1083.3 254.5,1088.3 256.5,1093.1 258.6,1097.8 260.6,1102.4 262.7,1106.8 264.7,1111.1 266.7,1115.3 268.8,1119.4 270.8,1123.4 272.9,1127.3 274.9,1131.1 276.9,1134.8 279,1138.5 281,1142 283.1,1145.5 285.1,1148.9 287.1,1152.2 289.2,1155.5 291.2,1158.6 293.3,1161.8 295.3,1164.8 297.3,1167.8 299.4,1170.7 301.4,1173.6 303.5,1176.4 305.5,1179.2 307.6,1181.9 309.6,1184.5 311.6,1187.1 313.7,1189.7 315.7,1192.2 317.8,1194.7 319.8,1197.1 321.8,1199.5 323.9,1201.8 325.9,1204.1 328,1206.3 330,1208.6 336.9,1215.8 343.8,1222.6 350.7,1229 357.6,1235 364.5,1240.8 371.4,1246.2 378.3,1251.3 385.3,1256.2 392.2,1260.8 399.1,1265.2 406,1269.3 412.9,1273.2 419.8,1276.9 426.7,1280.4 433.6,1283.7 440.5,1286.9 447.4,1289.9 454.3,1292.7 461.2,1295.4 468.1,1297.9 475,1300.3 481.9,1302.6 488.9,1304.8 495.8,1306.8 502.7,1308.8 509.6,1310.6 516.5,1312.3 523.4,1314 530.3,1315.5 537.2,1317 544.1,1318.4 551,1319.7 557.9,1321 564.8,1322.2 571.7,1323.3 578.6,1324.4 585.6,1325.4 592.5,1326.3 599.4,1327.2 606.3,1328.1 613.2,1328.9 620.1,1329.6 627,1330.4 633.9,1331 640.8,1331.7 647.7,1332.3 654.6,1332.9 661.5,1333.4 668.4,1333.9 675.3,1334.4 682.2,1334.9 689.2,1335.3 696.1,1335.8 703,1336.1 709.9,1336.5 716.8,1336.9 723.7,1337.2 730.6,1337.5 737.5,1337.8" stroke="#a0602a" stroke-width="3.6"/>
<polyline points="187.8,931.3 190.2,942.4 192.6,952.9 195,962.9 197.4,972.5 199.9,981.7 202.3,990.5 204.7,998.9 207.1,1006.9 209.5,1014.7 211.9,1022.1 214.3,1029.3 216.7,1036.1 219.1,1042.8 221.5,1049.2 224,1055.3 226.4,1061.3 228.8,1067 231.2,1072.6 233.6,1078 236,1083.2 238.4,1088.2 240.8,1093.1 243.2,1097.8 245.6,1102.4 248.1,1106.9 250.5,1111.2 252.9,1115.4 255.3,1119.5 257.7,1123.5 260.1,1127.3 262.5,1131.1 264.9,1134.7 267.3,1138.3 269.7,1141.7 272.2,1145.1 274.6,1148.4 277,1151.6 279.4,1154.7 281.8,1157.8 284.2,1160.7 286.6,1163.6 289,1166.5 291.4,1169.2 293.8,1171.9 296.3,1174.5 298.7,1177.1 301.1,1179.6 303.5,1182.1 305.9,1184.5 308.3,1186.9 310.7,1189.2 313.1,1191.4 315.5,1193.6 317.9,1195.8 320.4,1197.9 322.8,1199.9 325.2,1202 327.6,1203.9 330,1205.9 336.9,1211.2 343.8,1216.3 350.7,1221.1 357.6,1225.6 364.5,1229.9 371.4,1234 378.3,1237.8 385.3,1241.5 392.2,1245 399.1,1248.4 406,1251.6 412.9,1254.6 419.8,1257.5 426.7,1260.3 433.6,1262.9 440.5,1265.4 447.4,1267.9 454.3,1270.2 461.2,1272.4 468.1,1274.6 475,1276.6 481.9,1278.6 488.9,1280.5 495.8,1282.3 502.7,1284 509.6,1285.7 516.5,1287.3 523.4,1288.9 530.3,1290.4 537.2,1291.8 544.1,1293.2 551,1294.6 557.9,1295.9 564.8,1297.1 571.7,1298.3 578.6,1299.5 585.6,1300.6 592.5,1301.7 599.4,1302.8 606.3,1303.8 613.2,1304.8 620.1,1305.8 627,1306.7 633.9,1307.6 640.8,1308.4 647.7,1309.3 654.6,1310.1 661.5,1310.9 668.4,1311.6 675.3,1312.4 682.2,1313.1 689.2,1313.8 696.1,1314.5 703,1315.1 709.9,1315.8 716.8,1316.4 723.7,1317 730.6,1317.6 737.5,1318.2" stroke="#0a0ae6" stroke-width="3.6"/>
</g>
<path d="M99.1,948.5V1342.2H737.3" fill="none" stroke="#000" stroke-width="2.6"/>
<path d="M99,1251H108.5M99,1159H108.5M99,1066.9H108.5M99,974.8H108.5M183.9,1342V1332.5M269,1342V1332.5M354.1,1342V1332.5M439.3,1342V1332.5M524.5,1342V1332.5M609.6,1342V1332.5M694.8,1342V1332.5" stroke="#000" stroke-width="2.2"/>
<g font-family='Liberation Sans, sans-serif' font-weight="bold" font-size="36.5" fill="#000">
<text x="94.5" y="1356.1" text-anchor="end">0</text>
<text x="94.5" y="1264" text-anchor="end">0.1</text>
<text x="94.5" y="1172" text-anchor="end">0.2</text>
<text x="94.5" y="1079.9" text-anchor="end">0.3</text>
<text x="94.5" y="987.8" text-anchor="end">0.4</text>
<text x="183.9" y="1381" text-anchor="middle">0.1</text>
<text x="269" y="1381" text-anchor="middle">0.2</text>
<text x="354.1" y="1381" text-anchor="middle">0.3</text>
<text x="439.3" y="1381" text-anchor="middle">0.4</text>
<text x="524.5" y="1381" text-anchor="middle">0.5</text>
<text x="609.6" y="1381" text-anchor="middle">0.6</text>
<text x="694.8" y="1381" text-anchor="middle">0.7</text>
</g>
<path d="M957,857V1342M1062.9,857V1342M1168.8,857V1342M1274.7,857V1342M851,1315.5H1349M851,1247.2H1349M851,1178.9H1349M851,1110.6H1349M851,1042.3H1349M851,974H1349M851,905.7H1349" stroke="#000" stroke-width="1.6" stroke-dasharray="3.6 3.2"/>
<defs><clipPath id="cc"><rect x="851" y="857" width="498" height="486"/></clipPath></defs>
<g clip-path="url(#cc)" fill="none" stroke-width="5.6" stroke-linecap="butt" stroke-linejoin="round">
<polyline points="1330.6,845.8 1329.2,852.1 1327.9,858.5 1326.7,864.8 1325.6,871.1 1324.6,877.5 1323.5,883.8 1322.5,890.1 1321.6,896.5 1320.6,902.8 1319.6,909.1 1318.6,915.4 1317.5,921.8 1316.4,928.1 1315.2,934.4 1314,940.8 1312.6,947.1 1311.2,953.4 1309.7,959.8 1308,966.1 1306.2,972.4 1304.2,978.8 1302.2,985.1 1299.9,991.4 1297.5,997.8 1294.9,1004.1 1292.2,1010.4 1289.2,1016.8 1286.1,1023.1 1282.7,1029.4 1279.2,1035.7 1275.4,1042.1 1271.4,1048.4 1267.2,1054.7 1262.8,1061.1 1258.1,1067.4 1253.2,1073.7 1248.1,1080.1 1242.7,1086.4 1237.1,1092.7 1231.3,1099.1 1225.2,1105.4 1218.8,1111.7 1212.3,1118.1 1205.4,1124.4 1198.3,1130.7 1191,1137.1 1183.4,1143.4 1175.6,1149.7 1167.6,1156.1 1159.3,1162.4 1150.7,1168.7 1142,1175 1133,1181.4 1123.7,1187.7 1114.3,1194 1104.6,1200.4 1094.7,1206.7 1084.6,1213 1074.3,1219.4 1063.8,1225.7 1053.1,1232 1042.3,1238.4 1031.2,1244.7 1020,1251 1008.6,1257.4 997.1,1263.7 985.4,1270 973.6,1276.4 961.7,1282.7 949.6,1289 937.4,1295.3 925.2,1301.7 912.9,1308 900.5,1314.3 888,1320.7 875.5,1327 862.9,1333.3 850.4,1339.7 837.8,1346" stroke="#ffc8c8"/>
<polyline points="1214.9,845.8 1214.9,851.2 1214.8,856.5 1214.7,861.9 1214.4,867.2 1214.1,872.6 1213.8,878 1213.3,883.3 1212.8,888.7 1212.1,894 1211.4,899.4 1210.6,904.8 1209.7,910.1 1208.7,915.5 1207.6,920.9 1206.4,926.2 1205.1,931.6 1203.7,936.9 1202.2,942.3 1200.6,947.7 1198.9,953 1197,958.4 1195.1,963.7 1193,969.1 1190.8,974.5 1188.5,979.8 1186.1,985.2 1183.5,990.5 1180.8,995.9 1178,1001.3 1175,1006.6 1171.9,1012 1168.7,1017.3 1165.4,1022.7 1161.9,1028.1 1158.3,1033.4 1154.5,1038.8 1150.6,1044.1 1146.5,1049.5 1142.3,1054.9 1137.9,1060.2 1133.4,1065.6 1128.8,1071 1124,1076.3 1119,1081.7 1113.9,1087 1108.6,1092.4 1103.2,1097.8 1097.6,1103.1 1091.8,1108.5 1085.9,1113.8 1079.9,1119.2 1073.6,1124.6 1067.2,1129.9 1060.6,1135.3 1053.9,1140.6 1047,1146 1039.9,1151.4 1032.6,1156.7 1025.2,1162.1 1017.6,1167.4 1009.8,1172.8 1001.9,1178.2 993.7,1183.5 985.4,1188.9 977,1194.2 968.3,1199.6 959.5,1205 950.4,1210.3 941.2,1215.7 931.8,1221.1 922.3,1226.4 912.5,1231.8 902.6,1237.1 892.4,1242.5 882.1,1247.9 871.6,1253.2 860.9,1258.6 850.1,1263.9 839,1269.3" stroke="#66ff66"/>
<polyline points="1092.9,845.8 1093.2,850 1093.5,854.2 1093.6,858.5 1093.7,862.7 1093.7,866.9 1093.5,871.1 1093.4,875.4 1093.1,879.6 1092.7,883.8 1092.3,888 1091.7,892.2 1091.1,896.5 1090.4,900.7 1089.7,904.9 1088.8,909.1 1087.9,913.3 1086.9,917.6 1085.8,921.8 1084.7,926 1083.5,930.2 1082.1,934.5 1080.8,938.7 1079.3,942.9 1077.8,947.1 1076.2,951.3 1074.5,955.6 1072.7,959.8 1070.9,964 1069,968.2 1067,972.4 1064.9,976.7 1062.8,980.9 1060.6,985.1 1058.3,989.3 1055.9,993.6 1053.4,997.8 1050.8,1002 1048.2,1006.2 1045.4,1010.4 1042.6,1014.7 1039.7,1018.9 1036.7,1023.1 1033.6,1027.3 1030.4,1031.5 1027.1,1035.8 1023.7,1040 1020.2,1044.2 1016.6,1048.4 1012.9,1052.7 1009.1,1056.9 1005.2,1061.1 1001.1,1065.3 997,1069.5 992.7,1073.8 988.3,1078 983.8,1082.2 979.2,1086.4 974.4,1090.6 969.5,1094.9 964.4,1099.1 959.2,1103.3 953.9,1107.5 948.4,1111.8 942.8,1116 937,1120.2 931.1,1124.4 925,1128.6 918.7,1132.9 912.3,1137.1 905.7,1141.3 898.9,1145.5 891.9,1149.7 884.7,1154 877.4,1158.2 869.8,1162.4 862.1,1166.6 854.1,1170.9 846,1175.1 837.6,1179.3" stroke="#8080ff"/>
</g>
<rect x="849.6" y="848.3" width="498.3" height="9" fill="#ffd2d2"/>
<rect x="849.6" y="843.1" width="498.3" height="5.3" fill="#5dff5d"/>
<rect x="849.6" y="838.1" width="498.3" height="5.1" fill="#7d7dff"/>
<path d="M851.1,857.3V1342.2H1348.9V843.3" fill="none" stroke="#000" stroke-width="2.4"/>
<g font-family='Liberation Sans, sans-serif' font-weight="bold" font-size="32.5" fill="#000">
<text x="847.5" y="1327.3" text-anchor="end">0.3</text>
<text x="847.5" y="1259" text-anchor="end">0.4</text>
<text x="847.5" y="1190.7" text-anchor="end">0.5</text>
<text x="847.5" y="1122.4" text-anchor="end">0.6</text>
<text x="847.5" y="1054.1" text-anchor="end">0.7</text>
<text x="847.5" y="985.8" text-anchor="end">0.8</text>
<text x="847.5" y="917.5" text-anchor="end">0.9</text>
<text x="851.1" y="1377" text-anchor="middle">0.1</text>
<text x="957" y="1377" text-anchor="middle">0.2</text>
<text x="1062.9" y="1377" text-anchor="middle">0.3</text>
<text x="1168.8" y="1377" text-anchor="middle">0.4</text>
<text x="1274.7" y="1377" text-anchor="middle">0.5</text>
</g>
<defs>
<radialGradient id="gr" cx="0.35" cy="0.3" r="0.9"><stop offset="0" stop-color="#ff7070"/><stop offset="1" stop-color="#b03848"/></radialGradient>
<radialGradient id="gy" cx="0.6" cy="0.4" r="0.8"><stop offset="0" stop-color="#ffff20"/><stop offset="0.5" stop-color="#f0e000"/><stop offset="1" stop-color="#b07000"/></radialGradient>
<radialGradient id="gg" cx="0.6" cy="0.35" r="0.85"><stop offset="0" stop-color="#20ff20"/><stop offset="1" stop-color="#008000"/></radialGradient>
</defs>
<rect x="186.4" y="34" width="21.2" height="21.2" fill="url(#gr)"/>
<rect x="186.4" y="87.7" width="21.2" height="21.2" fill="url(#gy)"/>
<rect x="186.4" y="139.3" width="21.2" height="21.2" fill="url(#gg)"/>
<text x="219.9" y="50.8" font-family="Liberation Sans" font-weight="bold" font-style="italic" font-size="43.5" fill="#000">E</text>
<text x="250.0" y="62.6" font-family="Liberation Sans" font-weight="bold" font-style="italic" font-size="29.6" fill="#000">X</text>
<text x="268.2" y="50.8" font-family="Liberation Sans" font-weight="bold" font-style="normal" font-size="25.0" fill="#000">+/−</text>
<text x="306.7" y="50.8" font-family="Liberation Sans" font-weight="bold" font-style="normal" font-size="43.5" fill="#000">(</text>
<text x="322.6" y="50.8" font-family="Liberation Sans" font-weight="bold" font-style="italic" font-size="43.5" fill="#000">σ</text>
<text x="366.3" y="50.8" font-family="Liberation Sans" font-weight="bold" font-style="normal" font-size="43.5" fill="#000">=</text>
<text x="406.0" y="50.8" font-family="Liberation Sans" font-weight="bold" font-style="normal" font-size="43.5" fill="#000">1</text>
<text x="429.2" y="50.8" font-family="Liberation Sans" font-weight="bold" font-style="normal" font-size="43.5" fill="#000">)</text>
<text x="219.9" y="103.4" font-family="Liberation Sans" font-weight="bold" font-style="italic" font-size="43.5" fill="#000">E</text>
<text x="250.0" y="115.2" font-family="Liberation Sans" font-weight="bold" font-style="italic" font-size="29.6" fill="#000">X</text>
<text x="269.2" y="103.4" font-family="Liberation Sans" font-weight="bold" font-style="normal" font-size="25.0" fill="#000">−</text>
<text x="287.4" y="103.4" font-family="Liberation Sans" font-weight="bold" font-style="normal" font-size="43.5" fill="#000">(</text>
<text x="304.4" y="103.4" font-family="Liberation Sans" font-weight="bold" font-style="italic" font-size="43.5" fill="#000">σ</text>
<text x="346.9" y="103.4" font-family="Liberation Sans" font-weight="bold" font-style="normal" font-size="43.5" fill="#000">=</text>
<text x="384.5" y="103.4" font-family="Liberation Sans" font-weight="bold" font-style="normal" font-size="43.5" fill="#000">0.7</text>
<text x="447.5" y="103.4" font-family="Liberation Sans" font-weight="bold" font-style="normal" font-size="43.5" fill="#000">)</text>
<text x="219.9" y="156.1" font-family="Liberation Sans" font-weight="bold" font-style="italic" font-size="43.5" fill="#000">E</text>
<text x="250.0" y="167.9" font-family="Liberation Sans" font-weight="bold" font-style="italic" font-size="29.6" fill="#000">X</text>
<text x="269.2" y="156.1" font-family="Liberation Sans" font-weight="bold" font-style="normal" font-size="25.0" fill="#000">+</text>
<text x="285.2" y="156.1" font-family="Liberation Sans" font-weight="bold" font-style="normal" font-size="43.5" fill="#000">(</text>
<text x="304.4" y="156.1" font-family="Liberation Sans" font-weight="bold" font-style="italic" font-size="43.5" fill="#000">σ</text>
<text x="346.9" y="156.1" font-family="Liberation Sans" font-weight="bold" font-style="normal" font-size="43.5" fill="#000">=</text>
<text x="384.5" y="156.1" font-family="Liberation Sans" font-weight="bold" font-style="normal" font-size="43.5" fill="#000">0.7</text>
<text x="447.5" y="156.1" font-family="Liberation Sans" font-weight="bold" font-style="normal" font-size="43.5" fill="#000">)</text>
<text x="57.7" y="336.6" font-family="Liberation Serif" font-weight="bold" font-style="normal" font-size="59.5" fill="#000">(a)</text>
<text x="55.0" y="922.5" font-family="Liberation Serif" font-weight="bold" font-style="normal" font-size="59.5" fill="#000">(b)</text>
<text x="925.1" y="921.5" font-family="Liberation Serif" font-weight="bold" font-style="normal" font-size="59.5" fill="#000">(c)</text>
<text x="1129.3" y="245.0" font-family="Liberation Sans" font-weight="bold" font-style="normal" font-size="43.5" fill="#000">0.15</text>
<text x="1120.3" y="363.0" font-family="Liberation Sans" font-weight="bold" font-style="normal" font-size="43.5" fill="#000">0.10</text>
<text x="1113.3" y="480.0" font-family="Liberation Sans" font-weight="bold" font-style="normal" font-size="43.5" fill="#000">0.05</text>
<text x="1105.8" y="590.0" font-family="Liberation Sans" font-weight="bold" font-style="normal" font-size="43.5" fill="#000">0.00</text>
<text x="142.3" y="615.5" font-family="Liberation Sans" font-weight="bold" font-style="normal" font-size="43.0" fill="#000">0.00</text>
<text x="243.6" y="674.9" font-family="Liberation Sans" font-weight="bold" font-style="normal" font-size="43.0" fill="#000">0.05</text>
<text x="352.1" y="737.1" font-family="Liberation Sans" font-weight="bold" font-style="normal" font-size="43.0" fill="#000">0.10</text>
<text x="469.3" y="804.7" font-family="Liberation Sans" font-weight="bold" font-style="normal" font-size="43.0" fill="#000">0.15</text>
<text x="1052.9" y="623.0" font-family="Liberation Sans" font-weight="bold" font-style="normal" font-size="42.5" fill="#000">0.0</text>
<text x="943.8" y="681.0" font-family="Liberation Sans" font-weight="bold" font-style="normal" font-size="42.5" fill="#000">0.2</text>
<text x="828.0" y="742.3" font-family="Liberation Sans" font-weight="bold" font-style="normal" font-size="42.5" fill="#000">0.4</text>
<text x="703.6" y="807.0" font-family="Liberation Sans" font-weight="bold" font-style="normal" font-size="42.5" fill="#000">0.6</text>
<text x="75.0" y="1356.3" font-family="Liberation Sans" font-weight="bold" font-style="normal" font-size="37.5" fill="#000">0</text>
<text x="43.3" y="1264.2" font-family="Liberation Sans" font-weight="bold" font-style="normal" font-size="37.5" fill="#000">0.1</text>
<text x="43.7" y="1172.2" font-family="Liberation Sans" font-weight="bold" font-style="normal" font-size="37.5" fill="#000">0.2</text>
<text x="43.5" y="1080.1" font-family="Liberation Sans" font-weight="bold" font-style="normal" font-size="37.5" fill="#000">0.3</text>
<text x="42.4" y="988.0" font-family="Liberation Sans" font-weight="bold" font-style="normal" font-size="37.5" fill="#000">0.4</text>
<text x="157.6" y="1380.5" font-family="Liberation Sans" font-weight="bold" font-style="normal" font-size="37.5" fill="#000">0.1</text>
<text x="242.9" y="1380.5" font-family="Liberation Sans" font-weight="bold" font-style="normal" font-size="37.5" fill="#000">0.2</text>
<text x="328.0" y="1380.5" font-family="Liberation Sans" font-weight="bold" font-style="normal" font-size="37.5" fill="#000">0.3</text>
<text x="412.6" y="1380.5" font-family="Liberation Sans" font-weight="bold" font-style="normal" font-size="37.5" fill="#000">0.4</text>
<text x="498.2" y="1380.5" font-family="Liberation Sans" font-weight="bold" font-style="normal" font-size="37.5" fill="#000">0.5</text>
<text x="583.4" y="1380.5" font-family="Liberation Sans" font-weight="bold" font-style="normal" font-size="37.5" fill="#000">0.6</text>
<text x="668.8" y="1380.5" font-family="Liberation Sans" font-weight="bold" font-style="normal" font-size="37.5" fill="#000">0.7</text>
<text x="802.0" y="1327.4" font-family="Liberation Sans" font-weight="bold" font-style="normal" font-size="33.8" fill="#000">0.3</text>
<text x="801.0" y="1259.1" font-family="Liberation Sans" font-weight="bold" font-style="normal" font-size="33.8" fill="#000">0.4</text>
<text x="801.8" y="1190.8" font-family="Liberation Sans" font-weight="bold" font-style="normal" font-size="33.8" fill="#000">0.5</text>
<text x="802.0" y="1122.5" font-family="Liberation Sans" font-weight="bold" font-style="normal" font-size="33.8" fill="#000">0.6</text>
<text x="802.3" y="1054.2" font-family="Liberation Sans" font-weight="bold" font-style="normal" font-size="33.8" fill="#000">0.7</text>
<text x="801.8" y="985.9" font-family="Liberation Sans" font-weight="bold" font-style="normal" font-size="33.8" fill="#000">0.8</text>
<text x="802.0" y="917.6" font-family="Liberation Sans" font-weight="bold" font-style="normal" font-size="33.8" fill="#000">0.9</text>
<text x="827.4" y="1376.7" font-family="Liberation Sans" font-weight="bold" font-style="normal" font-size="33.8" fill="#000">0.1</text>
<text x="933.5" y="1376.7" font-family="Liberation Sans" font-weight="bold" font-style="normal" font-size="33.8" fill="#000">0.2</text>
<text x="1039.3" y="1376.7" font-family="Liberation Sans" font-weight="bold" font-style="normal" font-size="33.8" fill="#000">0.3</text>
<text x="1144.7" y="1376.7" font-family="Liberation Sans" font-weight="bold" font-style="normal" font-size="33.8" fill="#000">0.4</text>
<text x="1251.0" y="1376.7" font-family="Liberation Sans" font-weight="bold" font-style="normal" font-size="33.8" fill="#000">0.5</text>
<text x="174.2" y="1421.8" font-family="Liberation Sans" font-weight="bold" font-style="normal" font-size="34.5" fill="#000">Interlayer separation (</text>
<text x="535.6" y="1421.8" font-family="Liberation Serif" font-weight="normal" font-style="italic" font-size="45.5" fill="#000">a</text>
<text x="554.9" y="1413.2" font-family="Liberation Serif" font-weight="normal" font-style="normal" font-size="34.5" fill="#000">*</text>
<text x="557.0" y="1428.0" font-family="Liberation Serif" font-weight="normal" font-style="italic" font-size="26.9" fill="#000">B</text>
<text x="578.0" y="1421.8" font-family="Liberation Sans" font-weight="bold" font-style="normal" font-size="34.5" fill="#000">)</text>
<text x="894.5" y="1420.5" font-family="Liberation Sans" font-weight="bold" font-style="normal" font-size="34.5" fill="#000">Interlayer separation (</text>
<text x="1255.9" y="1420.5" font-family="Liberation Serif" font-weight="normal" font-style="italic" font-size="45.5" fill="#000">a</text>
<text x="1275.2" y="1411.9" font-family="Liberation Serif" font-weight="normal" font-style="normal" font-size="34.5" fill="#000">*</text>
<text x="1277.3" y="1426.7" font-family="Liberation Serif" font-weight="normal" font-style="italic" font-size="26.9" fill="#000">B</text>
<text x="1298.3" y="1420.5" font-family="Liberation Sans" font-weight="bold" font-style="normal" font-size="34.5" fill="#000">)</text>
<g transform="translate(793.5,0) rotate(-90)"><text x="-1323.8" y="0.0" font-family="Liberation Sans" font-weight="bold" font-style="normal" font-size="35.0" fill="#000">Electron-hole mass ratio</text></g>
<g transform="translate(25.2,1.5) rotate(-90)"><text x="-1330.0" y="0.0" font-family="Liberation Sans" font-weight="bold" font-style="normal" font-size="34.0" fill="#000">|Binding energy| (</text>
<text x="-1037.9" y="0.0" font-family="Liberation Serif" font-weight="bold" font-style="italic" font-size="36.0" fill="#000">R</text>
<text x="-1013.9" y="0.0" font-family="Liberation Serif" font-weight="bold" font-style="italic" font-size="34.0" fill="#000">y</text>
<text x="-998.1" y="-2.0" font-family="Liberation Serif" font-weight="bold" font-style="normal" font-size="32.0" fill="#000">*</text>
<text x="-980.1" y="0.0" font-family="Liberation Sans" font-weight="bold" font-style="normal" font-size="34.0" fill="#000">)</text></g>
<g transform="translate(1246,0) rotate(90)"><text x="89.5" y="0.0" font-family="Liberation Sans" font-weight="bold" font-style="normal" font-size="50.0" fill="#000">|Binding energy| (</text>
<text x="512.6" y="0.0" font-family="Liberation Serif" font-weight="bold" font-style="italic" font-size="53.0" fill="#000">R</text>
<text x="546.6" y="0.0" font-family="Liberation Serif" font-weight="bold" font-style="italic" font-size="46.0" fill="#000">y</text>
<text x="569.6" y="-4.5" font-family="Liberation Serif" font-weight="bold" font-style="normal" font-size="44.0" fill="#000">*</text>
<text x="593.2" y="0.0" font-family="Liberation Sans" font-weight="bold" font-style="normal" font-size="50.0" fill="#000">)</text></g>
<g transform="translate(94,631) rotate(29.5)"><text x="-1.2" y="0.0" font-family="Liberation Sans" font-weight="bold" font-style="normal" font-size="39.5" fill="#000">Screening parameter (</text>
<text x="416.9" y="0.0" font-family="Liberation Serif" font-weight="normal" font-style="italic" font-size="52.1" fill="#000">a</text>
<text x="439.0" y="-9.9" font-family="Liberation Serif" font-weight="normal" font-style="normal" font-size="39.5" fill="#000">*</text>
<text x="441.5" y="7.1" font-family="Liberation Serif" font-weight="normal" font-style="italic" font-size="30.8" fill="#000">B</text>
<text x="465.5" y="0.0" font-family="Liberation Sans" font-weight="bold" font-style="normal" font-size="39.5" fill="#000">)</text></g>
<g transform="translate(728.5,868.5) rotate(-28)"><text x="-2.6" y="0.0" font-family="Liberation Sans" font-weight="bold" font-style="normal" font-size="39.5" fill="#000">Interlayer separation (</text>
<text x="411.2" y="0.0" font-family="Liberation Serif" font-weight="normal" font-style="italic" font-size="52.1" fill="#000">a</text>
<text x="433.3" y="-9.9" font-family="Liberation Serif" font-weight="normal" font-style="normal" font-size="39.5" fill="#000">*</text>
<text x="435.8" y="7.1" font-family="Liberation Serif" font-weight="normal" font-style="italic" font-size="30.8" fill="#000">B</text>
<text x="459.8" y="0.0" font-family="Liberation Sans" font-weight="bold" font-style="normal" font-size="39.5" fill="#000">)</text></g>
<path d="M325.6,1004.3H372.2" stroke="#a0602a" stroke-width="3.2"/><path d="M325.6,1050.3H372.2" stroke="#0a0ae6" stroke-width="3.2"/><path d="M325.6,1096.3H372.2" stroke="#e01010" stroke-width="3.6" stroke-dasharray="7 5.5"/>
<text x="381.8" y="1009.1" font-family="Liberation Sans" font-weight="bold" font-style="italic" font-size="34.0" fill="#000">E</text>
<text x="406.7" y="1016.3" font-family="Liberation Sans" font-weight="bold" font-style="italic" font-size="23.0" fill="#000">X</text>
<text x="425.4" y="1008.1" font-family="Liberation Sans" font-weight="bold" font-style="normal" font-size="19.0" fill="#000">−</text>
<text x="436.0" y="1009.1" font-family="Liberation Sans" font-weight="bold" font-style="normal" font-size="34.0" fill="#000">(</text>
<text x="450.5" y="1009.1" font-family="Liberation Sans" font-weight="bold" font-style="italic" font-size="34.0" fill="#000">r</text>
<text x="464.7" y="1015.1" font-family="Liberation Sans" font-weight="bold" font-style="normal" font-size="26.0" fill="#000">0</text>
<text x="485.6" y="1009.1" font-family="Liberation Sans" font-weight="bold" font-style="normal" font-size="34.0" fill="#000">=</text>
<text x="520.3" y="1009.1" font-family="Liberation Sans" font-weight="bold" font-style="normal" font-size="34.0" fill="#000">0.1;</text>
<text x="595.3" y="1009.1" font-family="Liberation Sans" font-weight="bold" font-style="italic" font-size="34.0" fill="#000">σ</text>
<text x="626.9" y="1009.1" font-family="Liberation Sans" font-weight="bold" font-style="normal" font-size="34.0" fill="#000">=</text>
<text x="660.3" y="1009.1" font-family="Liberation Sans" font-weight="bold" font-style="normal" font-size="34.0" fill="#000">0.7</text>
<text x="712.3" y="1009.1" font-family="Liberation Sans" font-weight="bold" font-style="normal" font-size="34.0" fill="#000">)</text>
<text x="381.8" y="1054.5" font-family="Liberation Sans" font-weight="bold" font-style="italic" font-size="34.0" fill="#000">E</text>
<text x="406.7" y="1061.7" font-family="Liberation Sans" font-weight="bold" font-style="italic" font-size="23.0" fill="#000">X</text>
<text x="425.4" y="1053.5" font-family="Liberation Sans" font-weight="bold" font-style="normal" font-size="19.0" fill="#000">+</text>
<text x="436.0" y="1054.5" font-family="Liberation Sans" font-weight="bold" font-style="normal" font-size="34.0" fill="#000">(</text>
<text x="450.5" y="1054.5" font-family="Liberation Sans" font-weight="bold" font-style="italic" font-size="34.0" fill="#000">r</text>
<text x="464.7" y="1060.5" font-family="Liberation Sans" font-weight="bold" font-style="normal" font-size="26.0" fill="#000">0</text>
<text x="485.6" y="1054.5" font-family="Liberation Sans" font-weight="bold" font-style="normal" font-size="34.0" fill="#000">=</text>
<text x="520.3" y="1054.5" font-family="Liberation Sans" font-weight="bold" font-style="normal" font-size="34.0" fill="#000">0.1;</text>
<text x="595.3" y="1054.5" font-family="Liberation Sans" font-weight="bold" font-style="italic" font-size="34.0" fill="#000">σ</text>
<text x="626.9" y="1054.5" font-family="Liberation Sans" font-weight="bold" font-style="normal" font-size="34.0" fill="#000">=</text>
<text x="660.3" y="1054.5" font-family="Liberation Sans" font-weight="bold" font-style="normal" font-size="34.0" fill="#000">0.7</text>
<text x="712.3" y="1054.5" font-family="Liberation Sans" font-weight="bold" font-style="normal" font-size="34.0" fill="#000">)</text>
<text x="381.8" y="1099.0" font-family="Liberation Sans" font-weight="bold" font-style="italic" font-size="34.0" fill="#000">E</text>
<text x="406.7" y="1106.2" font-family="Liberation Sans" font-weight="bold" font-style="italic" font-size="23.0" fill="#000">X</text>
<text x="425.4" y="1098.0" font-family="Liberation Sans" font-weight="bold" font-style="normal" font-size="19.0" fill="#000">+/−</text>
<text x="453.3" y="1099.0" font-family="Liberation Sans" font-weight="bold" font-style="normal" font-size="34.0" fill="#000">(</text>
<text x="466.5" y="1099.0" font-family="Liberation Sans" font-weight="bold" font-style="italic" font-size="34.0" fill="#000">r</text>
<text x="480.7" y="1105.0" font-family="Liberation Sans" font-weight="bold" font-style="normal" font-size="26.0" fill="#000">0</text>
<text x="504.3" y="1099.0" font-family="Liberation Sans" font-weight="bold" font-style="normal" font-size="34.0" fill="#000">=</text>
<text x="533.6" y="1099.0" font-family="Liberation Sans" font-weight="bold" font-style="normal" font-size="34.0" fill="#000">0;</text>
<text x="580.7" y="1099.0" font-family="Liberation Sans" font-weight="bold" font-style="italic" font-size="34.0" fill="#000">σ</text>
<text x="613.6" y="1099.0" font-family="Liberation Sans" font-weight="bold" font-style="normal" font-size="34.0" fill="#000">=</text>
<text x="642.1" y="1099.0" font-family="Liberation Sans" font-weight="bold" font-style="normal" font-size="34.0" fill="#000">1</text>
<text x="668.3" y="1099.0" font-family="Liberation Sans" font-weight="bold" font-style="normal" font-size="34.0" fill="#000">)</text>
<text x="1176.2" y="1235.6" font-family="Liberation Sans" font-weight="bold" font-style="italic" font-size="31.7" fill="#000">r</text>
<text x="1186.8" y="1242.1" font-family="Liberation Sans" font-weight="bold" font-style="normal" font-size="24.0" fill="#000">0</text>
<text x="1209.8" y="1235.6" font-family="Liberation Sans" font-weight="bold" font-style="normal" font-size="31.7" fill="#000">=</text>
<text x="1238.7" y="1235.6" font-family="Liberation Sans" font-weight="bold" font-style="normal" font-size="31.7" fill="#000">0.007</text>
<text x="1176.2" y="1275.6" font-family="Liberation Sans" font-weight="bold" font-style="italic" font-size="31.7" fill="#000">r</text>
<text x="1186.8" y="1282.1" font-family="Liberation Sans" font-weight="bold" font-style="normal" font-size="24.0" fill="#000">0</text>
<text x="1209.8" y="1275.6" font-family="Liberation Sans" font-weight="bold" font-style="normal" font-size="31.7" fill="#000">=</text>
<text x="1238.7" y="1275.6" font-family="Liberation Sans" font-weight="bold" font-style="normal" font-size="31.7" fill="#000">0.057</text>
<text x="1176.2" y="1314.4" font-family="Liberation Sans" font-weight="bold" font-style="italic" font-size="31.7" fill="#000">r</text>
<text x="1186.8" y="1320.9" font-family="Liberation Sans" font-weight="bold" font-style="normal" font-size="24.0" fill="#000">0</text>
<text x="1209.8" y="1314.4" font-family="Liberation Sans" font-weight="bold" font-style="normal" font-size="31.7" fill="#000">=</text>
<text x="1238.7" y="1314.4" font-family="Liberation Sans" font-weight="bold" font-style="normal" font-size="31.7" fill="#000">0.1</text>
<path d="M1143.3,1231.6H1170" stroke="#ffc0c0" stroke-width="6.5"/>
<path d="M1143.3,1271.1H1170" stroke="#5dff5d" stroke-width="6.5"/>
<path d="M1143.3,1310.7H1170" stroke="#7d7dff" stroke-width="6.5"/>
<text x="872.2" y="1002.8" font-family="Liberation Sans" font-weight="bold" font-style="normal" font-size="33.0" fill="#8282f6">|</text>
<text x="881.4" y="1003.3" font-family="Liberation Sans" font-weight="bold" font-style="italic" font-size="31.0" fill="#8282f6">E</text>
<text x="900.9" y="1008.8" font-family="Liberation Sans" font-weight="bold" font-style="italic" font-size="19.5" fill="#8282f6">X</text>
<text x="916.1" y="1002.8" font-family="Liberation Sans" font-weight="bold" font-style="normal" font-size="31.0" fill="#8282f6">-</text>
<text x="926.2" y="1002.8" font-family="Liberation Sans" font-weight="bold" font-style="normal" font-size="33.0" fill="#8282f6">|</text>
<text x="939.5" y="1003.3" font-family="Liberation Sans" font-weight="bold" font-style="normal" font-size="31.0" fill="#8282f6">&gt;</text>
<text x="961.5" y="1002.8" font-family="Liberation Sans" font-weight="bold" font-style="normal" font-size="33.0" fill="#8282f6">|</text>
<text x="970.1" y="1003.3" font-family="Liberation Sans" font-weight="bold" font-style="italic" font-size="31.0" fill="#8282f6">E</text>
<text x="989.6" y="1008.8" font-family="Liberation Sans" font-weight="bold" font-style="italic" font-size="19.5" fill="#8282f6">X</text>
<text x="1003.7" y="1001.8" font-family="Liberation Sans" font-weight="bold" font-style="normal" font-size="24.0" fill="#8282f6">+</text>
<text x="1018.2" y="1002.8" font-family="Liberation Sans" font-weight="bold" font-style="normal" font-size="33.0" fill="#8282f6">|</text>
<text x="976.8" y="1308.8" font-family="Liberation Sans" font-weight="bold" font-style="normal" font-size="33.0" fill="#f87878">|</text>
<text x="986.1" y="1309.3" font-family="Liberation Sans" font-weight="bold" font-style="italic" font-size="31.0" fill="#f87878">E</text>
<text x="1005.6" y="1314.8" font-family="Liberation Sans" font-weight="bold" font-style="italic" font-size="19.5" fill="#f87878">X</text>
<text x="1020.8" y="1308.8" font-family="Liberation Sans" font-weight="bold" font-style="normal" font-size="31.0" fill="#f87878">-</text>
<text x="1031.5" y="1308.8" font-family="Liberation Sans" font-weight="bold" font-style="normal" font-size="33.0" fill="#f87878">|</text>
<text x="1044.1" y="1309.3" font-family="Liberation Sans" font-weight="bold" font-style="normal" font-size="31.0" fill="#f87878">&lt;</text>
<text x="1066.2" y="1308.8" font-family="Liberation Sans" font-weight="bold" font-style="normal" font-size="33.0" fill="#f87878">|</text>
<text x="1074.7" y="1309.3" font-family="Liberation Sans" font-weight="bold" font-style="italic" font-size="31.0" fill="#f87878">E</text>
<text x="1094.2" y="1314.8" font-family="Liberation Sans" font-weight="bold" font-style="italic" font-size="19.5" fill="#f87878">X</text>
<text x="1107.7" y="1307.8" font-family="Liberation Sans" font-weight="bold" font-style="normal" font-size="24.0" fill="#f87878">+</text>
<text x="1122.8" y="1308.8" font-family="Liberation Sans" font-weight="bold" font-style="normal" font-size="33.0" fill="#f87878">|</text>
</svg>
</body></html>
